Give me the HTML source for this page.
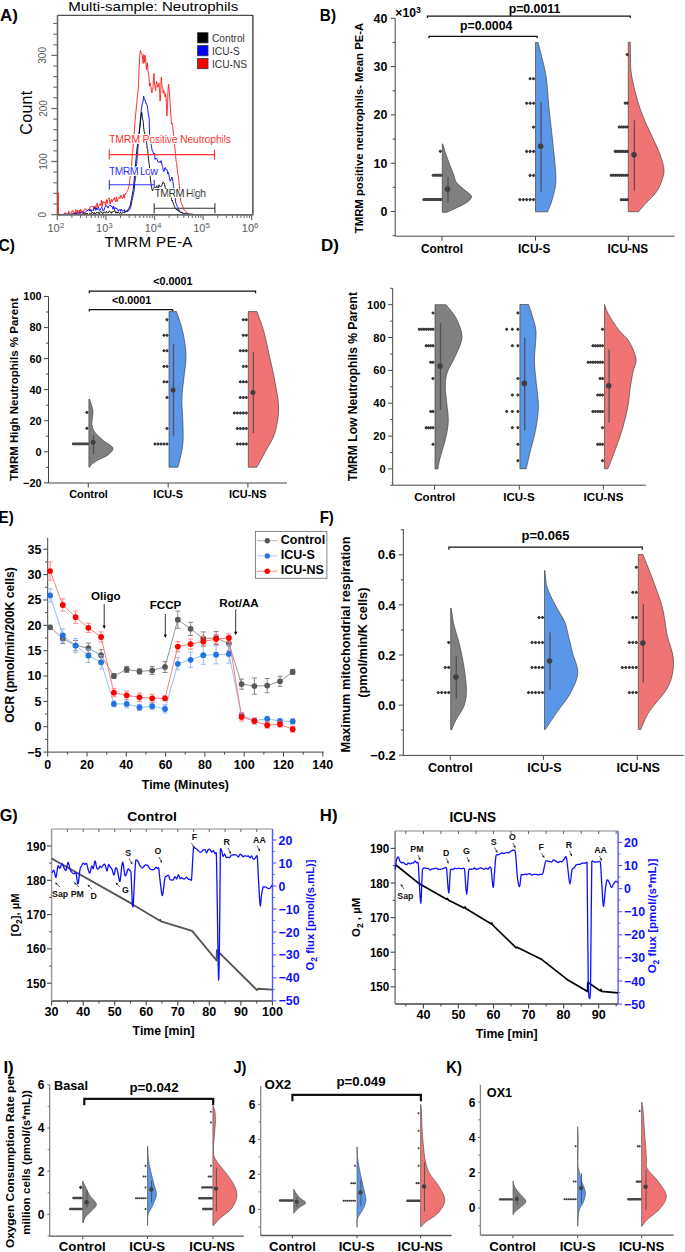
<!DOCTYPE html>
<html><head><meta charset="utf-8"><style>
html,body{margin:0;padding:0;background:#fff;overflow:hidden;width:685px;height:1252px;}
svg{display:block;}
text{font-family:"Liberation Sans",sans-serif;}
</style></head><body>
<svg width="685" height="1252" viewBox="0 0 685 1252">
<rect width="685" height="1252" fill="#fff"/>
<text x="-0.1" y="20.7" font-size="16.6" font-weight="bold" text-anchor="start" fill="#000" textLength="17.9" lengthAdjust="spacingAndGlyphs">A)</text>
<text x="319.8" y="20.7" font-size="16.6" font-weight="bold" text-anchor="start" fill="#000" textLength="16.2" lengthAdjust="spacingAndGlyphs">B)</text>
<text x="-1.5" y="250.8" font-size="16.6" font-weight="bold" text-anchor="start" fill="#000" textLength="16.4" lengthAdjust="spacingAndGlyphs">C)</text>
<text x="320.9" y="251" font-size="16.6" font-weight="bold" text-anchor="start" fill="#000" textLength="17.9" lengthAdjust="spacingAndGlyphs">D)</text>
<text x="-1.5" y="523.1" font-size="16.6" font-weight="bold" text-anchor="start" fill="#000" textLength="15.2" lengthAdjust="spacingAndGlyphs">E)</text>
<text x="319.7" y="522.9" font-size="16.6" font-weight="bold" text-anchor="start" fill="#000" textLength="14.2" lengthAdjust="spacingAndGlyphs">F)</text>
<text x="-0.3" y="820.8" font-size="16.6" font-weight="bold" text-anchor="start" fill="#000" textLength="18.1" lengthAdjust="spacingAndGlyphs">G)</text>
<text x="319.8" y="820.7" font-size="16.6" font-weight="bold" text-anchor="start" fill="#000" textLength="17.7" lengthAdjust="spacingAndGlyphs">H)</text>
<text x="3.4" y="1072.5" font-size="16.6" font-weight="bold" text-anchor="start" fill="#000" textLength="10.3" lengthAdjust="spacingAndGlyphs">I)</text>
<text x="233.4" y="1072.5" font-size="16.6" font-weight="bold" text-anchor="start" fill="#000" textLength="13.0" lengthAdjust="spacingAndGlyphs">J)</text>
<text x="446.3" y="1072.5" font-size="16.6" font-weight="bold" text-anchor="start" fill="#000" textLength="15.6" lengthAdjust="spacingAndGlyphs">K)</text>
<line x1="395.2" y1="18.3" x2="395.2" y2="236.2" stroke="#444" stroke-width="1" />
<line x1="390.7" y1="211.5" x2="395.2" y2="211.5" stroke="#444" stroke-width="1" />
<text x="387.3" y="215.9" font-size="12.4" font-weight="bold" text-anchor="end" fill="#000" >0</text>
<line x1="390.7" y1="163.2" x2="395.2" y2="163.2" stroke="#444" stroke-width="1" />
<text x="387.3" y="167.6" font-size="12.4" font-weight="bold" text-anchor="end" fill="#000" >10</text>
<line x1="390.7" y1="114.9" x2="395.2" y2="114.9" stroke="#444" stroke-width="1" />
<text x="387.3" y="119.3" font-size="12.4" font-weight="bold" text-anchor="end" fill="#000" >20</text>
<line x1="390.7" y1="66.6" x2="395.2" y2="66.6" stroke="#444" stroke-width="1" />
<text x="387.3" y="71" font-size="12.4" font-weight="bold" text-anchor="end" fill="#000" >30</text>
<line x1="390.7" y1="18.3" x2="395.2" y2="18.3" stroke="#444" stroke-width="1" />
<text x="387.3" y="22.7" font-size="12.4" font-weight="bold" text-anchor="end" fill="#000" >40</text>
<line x1="392.7" y1="235.7" x2="395.2" y2="235.7" stroke="#444" stroke-width="1" />
<line x1="392.7" y1="187.3" x2="395.2" y2="187.3" stroke="#444" stroke-width="1" />
<line x1="392.7" y1="139.1" x2="395.2" y2="139.1" stroke="#444" stroke-width="1" />
<line x1="392.7" y1="90.8" x2="395.2" y2="90.8" stroke="#444" stroke-width="1" />
<line x1="392.7" y1="42.4" x2="395.2" y2="42.4" stroke="#444" stroke-width="1" />
<text x="395.3" y="16.8" font-size="12.2" font-weight="bold" text-anchor="start" fill="#000" >×10<tspan font-size="8.8" dy="-4">3</tspan></text>
<line x1="395.2" y1="236.2" x2="674.5" y2="236.2" stroke="#444" stroke-width="1" />
<line x1="442" y1="236.2" x2="442" y2="240.7" stroke="#444" stroke-width="1" />
<line x1="535.5" y1="236.2" x2="535.5" y2="240.7" stroke="#444" stroke-width="1" />
<line x1="628.3" y1="236.2" x2="628.3" y2="240.7" stroke="#444" stroke-width="1" />
<text x="442" y="252.9" font-size="11.85" font-weight="bold" text-anchor="middle" fill="#000" >Control</text>
<text x="534.2" y="252.9" font-size="11.85" font-weight="bold" text-anchor="middle" fill="#000" >ICU-S</text>
<text x="627.8" y="252.9" font-size="11.85" font-weight="bold" text-anchor="middle" fill="#000" >ICU-NS</text>
<text x="362.9" y="128" font-size="11.3" font-weight="bold" text-anchor="middle" fill="#000" transform="rotate(-90 362.9 128)" >TMRM positive neutrophils- Mean PE-A</text>
<path d="M427.5,18.1 L427.5,16.1 L630.3,16.1 L630.3,18.1" fill="none" stroke="#111" stroke-width="1.2"/>
<text x="534.5" y="12.8" font-size="12.3" font-weight="bold" text-anchor="middle" fill="#000" >p=0.0011</text>
<path d="M429,38.3 L429,36.3 L537.2,36.3 L537.2,38.3" fill="none" stroke="#111" stroke-width="1.2"/>
<text x="486.2" y="29.5" font-size="12.3" font-weight="bold" text-anchor="middle" fill="#000" >p=0.0004</text>
<path d="M442.3,143.9 L442.8,143.9 C443.4,145.9 444.8,151 446.5,156 C448.2,161 451.6,169.4 453.3,173.8 C455,178.2 454.7,179.9 456.5,182.5 C458.3,185.1 461.5,187.2 464,189.5 C466.5,191.8 471.2,194.2 471.5,196.4 C471.8,198.7 468.8,201 466,203 C463.2,205 458.2,206.9 455,208.5 C451.8,210.1 448.1,211.7 446.7,212.3 L442.3,212.3 Z" fill="#808080" stroke="#444" stroke-width="0.7" stroke-linejoin="round"/>
<line x1="423.8" y1="199.6" x2="441.1" y2="199.6" stroke="#444" stroke-width="3.0" stroke-linecap="round"/>
<line x1="433.2" y1="175.3" x2="441.1" y2="175.3" stroke="#444" stroke-width="3.0" stroke-linecap="round"/>
<path d="M438.5,151.2 L440.3,149.4 L442.1,151.2 L440.3,153 Z" fill="#383838"/>
<circle cx="440.3" cy="151.2" r="1.2" fill="#383838"/>
<line x1="448" y1="177" x2="448" y2="202.6" stroke="#4a4a4a" stroke-width="1.3" stroke-opacity="0.85"/>
<circle cx="447.6" cy="189.1" r="2.8" fill="#404040"/>
<path d="M535.5,42.5 L538,42.5 C538.8,45.4 541.1,54.1 542.5,60 C543.9,65.9 545.2,69.6 546.3,77.9 C547.4,86.2 548.1,99.2 549.2,109.9 C550.3,120.6 551.6,130.4 552.7,141.8 C553.8,153.2 555.9,169.3 555.9,178.6 C555.9,187.9 554.1,192.2 552.7,197.7 C551.3,203.2 548.5,209.5 547.6,211.8 L535.5,211.8 Z" fill="#5b97e8" stroke="#444" stroke-width="0.7" stroke-linejoin="round"/>
<path d="M531.7,78.7 L533.5,76.9 L535.3,78.7 L533.5,80.5 Z" fill="#383838"/>
<circle cx="533.5" cy="78.7" r="1.2" fill="#383838"/>
<path d="M528.3,78.7 L530.1,76.9 L531.9,78.7 L530.1,80.5 Z" fill="#383838"/>
<circle cx="530.1" cy="78.7" r="1.2" fill="#383838"/>
<path d="M531.7,103.2 L533.5,101.4 L535.3,103.2 L533.5,105 Z" fill="#383838"/>
<circle cx="533.5" cy="103.2" r="1.2" fill="#383838"/>
<path d="M528.3,103.2 L530.1,101.4 L531.9,103.2 L530.1,105 Z" fill="#383838"/>
<circle cx="530.1" cy="103.2" r="1.2" fill="#383838"/>
<path d="M524.9,103.2 L526.7,101.4 L528.5,103.2 L526.7,105 Z" fill="#383838"/>
<circle cx="526.7" cy="103.2" r="1.2" fill="#383838"/>
<path d="M531.7,127.1 L533.5,125.3 L535.3,127.1 L533.5,128.9 Z" fill="#383838"/>
<circle cx="533.5" cy="127.1" r="1.2" fill="#383838"/>
<path d="M531.7,151.4 L533.5,149.6 L535.3,151.4 L533.5,153.2 Z" fill="#383838"/>
<circle cx="533.5" cy="151.4" r="1.2" fill="#383838"/>
<path d="M528.3,151.4 L530.1,149.6 L531.9,151.4 L530.1,153.2 Z" fill="#383838"/>
<circle cx="530.1" cy="151.4" r="1.2" fill="#383838"/>
<path d="M524.9,151.4 L526.7,149.6 L528.5,151.4 L526.7,153.2 Z" fill="#383838"/>
<circle cx="526.7" cy="151.4" r="1.2" fill="#383838"/>
<path d="M531.7,175.4 L533.5,173.6 L535.3,175.4 L533.5,177.2 Z" fill="#383838"/>
<circle cx="533.5" cy="175.4" r="1.2" fill="#383838"/>
<path d="M528.3,175.4 L530.1,173.6 L531.9,175.4 L530.1,177.2 Z" fill="#383838"/>
<circle cx="530.1" cy="175.4" r="1.2" fill="#383838"/>
<path d="M531.7,199.6 L533.5,197.8 L535.3,199.6 L533.5,201.4 Z" fill="#383838"/>
<circle cx="533.5" cy="199.6" r="1.2" fill="#383838"/>
<path d="M528.3,199.6 L530.1,197.8 L531.9,199.6 L530.1,201.4 Z" fill="#383838"/>
<circle cx="530.1" cy="199.6" r="1.2" fill="#383838"/>
<path d="M524.9,199.6 L526.7,197.8 L528.5,199.6 L526.7,201.4 Z" fill="#383838"/>
<circle cx="526.7" cy="199.6" r="1.2" fill="#383838"/>
<path d="M521.5,199.6 L523.3,197.8 L525.1,199.6 L523.3,201.4 Z" fill="#383838"/>
<circle cx="523.3" cy="199.6" r="1.2" fill="#383838"/>
<path d="M518.1,199.6 L519.9,197.8 L521.7,199.6 L519.9,201.4 Z" fill="#383838"/>
<circle cx="519.9" cy="199.6" r="1.2" fill="#383838"/>
<line x1="541.1" y1="101.9" x2="541.1" y2="191.7" stroke="#4a4a4a" stroke-width="1.3" stroke-opacity="0.85"/>
<circle cx="540.7" cy="146.3" r="2.8" fill="#404040"/>
<path d="M628.3,42.2 L630.3,42.2 C630.3,44.3 630.4,49.9 630.5,55 C630.6,60.1 630.3,66.1 631.2,72.8 C632.1,79.5 634.1,88 636,95 C637.9,102 639.8,108.5 642.3,115 C644.8,121.5 648.1,127.8 650.9,134 C653.7,140.2 656.8,146.2 659,152 C661.2,157.8 663.4,163.9 663.9,168.6 C664.4,173.3 663.2,176.2 662,180 C660.8,183.8 658.9,188.1 656.6,191.6 C654.3,195.1 651,197.7 648,201 C645,204.3 640,209.9 638.4,211.7 L628.3,211.7 Z" fill="#f07474" stroke="#444" stroke-width="0.7" stroke-linejoin="round"/>
<path d="M625.4,54.6 L627.2,52.8 L629,54.6 L627.2,56.4 Z" fill="#383838"/>
<circle cx="627.2" cy="54.6" r="1.2" fill="#383838"/>
<path d="M625.4,103.1 L627.2,101.3 L629,103.1 L627.2,104.9 Z" fill="#383838"/>
<circle cx="627.2" cy="103.1" r="1.2" fill="#383838"/>
<path d="M623.4,103.1 L625.2,101.3 L627,103.1 L625.2,104.9 Z" fill="#383838"/>
<circle cx="625.2" cy="103.1" r="1.2" fill="#383838"/>
<path d="M625.4,127 L627.2,125.2 L629,127 L627.2,128.8 Z" fill="#383838"/>
<circle cx="627.2" cy="127" r="1.2" fill="#383838"/>
<path d="M623.4,127 L625.2,125.2 L627,127 L625.2,128.8 Z" fill="#383838"/>
<circle cx="625.2" cy="127" r="1.2" fill="#383838"/>
<path d="M621.4,127 L623.2,125.2 L625,127 L623.2,128.8 Z" fill="#383838"/>
<circle cx="623.2" cy="127" r="1.2" fill="#383838"/>
<path d="M619.4,127 L621.2,125.2 L623,127 L621.2,128.8 Z" fill="#383838"/>
<circle cx="621.2" cy="127" r="1.2" fill="#383838"/>
<path d="M617.4,127 L619.2,125.2 L621,127 L619.2,128.8 Z" fill="#383838"/>
<circle cx="619.2" cy="127" r="1.2" fill="#383838"/>
<path d="M625.4,151.4 L627.2,149.6 L629,151.4 L627.2,153.2 Z" fill="#383838"/>
<circle cx="627.2" cy="151.4" r="1.2" fill="#383838"/>
<path d="M623.4,151.4 L625.2,149.6 L627,151.4 L625.2,153.2 Z" fill="#383838"/>
<circle cx="625.2" cy="151.4" r="1.2" fill="#383838"/>
<path d="M621.4,151.4 L623.2,149.6 L625,151.4 L623.2,153.2 Z" fill="#383838"/>
<circle cx="623.2" cy="151.4" r="1.2" fill="#383838"/>
<path d="M619.4,151.4 L621.2,149.6 L623,151.4 L621.2,153.2 Z" fill="#383838"/>
<circle cx="621.2" cy="151.4" r="1.2" fill="#383838"/>
<path d="M617.4,151.4 L619.2,149.6 L621,151.4 L619.2,153.2 Z" fill="#383838"/>
<circle cx="619.2" cy="151.4" r="1.2" fill="#383838"/>
<path d="M615.4,151.4 L617.2,149.6 L619,151.4 L617.2,153.2 Z" fill="#383838"/>
<circle cx="617.2" cy="151.4" r="1.2" fill="#383838"/>
<path d="M613.4,151.4 L615.2,149.6 L617,151.4 L615.2,153.2 Z" fill="#383838"/>
<circle cx="615.2" cy="151.4" r="1.2" fill="#383838"/>
<path d="M625.4,175.3 L627.2,173.5 L629,175.3 L627.2,177.1 Z" fill="#383838"/>
<circle cx="627.2" cy="175.3" r="1.2" fill="#383838"/>
<path d="M623.4,175.3 L625.2,173.5 L627,175.3 L625.2,177.1 Z" fill="#383838"/>
<circle cx="625.2" cy="175.3" r="1.2" fill="#383838"/>
<path d="M621.4,175.3 L623.2,173.5 L625,175.3 L623.2,177.1 Z" fill="#383838"/>
<circle cx="623.2" cy="175.3" r="1.2" fill="#383838"/>
<path d="M619.4,175.3 L621.2,173.5 L623,175.3 L621.2,177.1 Z" fill="#383838"/>
<circle cx="621.2" cy="175.3" r="1.2" fill="#383838"/>
<path d="M617.4,175.3 L619.2,173.5 L621,175.3 L619.2,177.1 Z" fill="#383838"/>
<circle cx="619.2" cy="175.3" r="1.2" fill="#383838"/>
<path d="M615.4,175.3 L617.2,173.5 L619,175.3 L617.2,177.1 Z" fill="#383838"/>
<circle cx="617.2" cy="175.3" r="1.2" fill="#383838"/>
<path d="M613.4,175.3 L615.2,173.5 L617,175.3 L615.2,177.1 Z" fill="#383838"/>
<circle cx="615.2" cy="175.3" r="1.2" fill="#383838"/>
<path d="M611.4,175.3 L613.2,173.5 L615,175.3 L613.2,177.1 Z" fill="#383838"/>
<circle cx="613.2" cy="175.3" r="1.2" fill="#383838"/>
<path d="M609.4,175.3 L611.2,173.5 L613,175.3 L611.2,177.1 Z" fill="#383838"/>
<circle cx="611.2" cy="175.3" r="1.2" fill="#383838"/>
<path d="M625.4,199.7 L627.2,197.9 L629,199.7 L627.2,201.5 Z" fill="#383838"/>
<circle cx="627.2" cy="199.7" r="1.2" fill="#383838"/>
<path d="M623.4,199.7 L625.2,197.9 L627,199.7 L625.2,201.5 Z" fill="#383838"/>
<circle cx="625.2" cy="199.7" r="1.2" fill="#383838"/>
<path d="M621.4,199.7 L623.2,197.9 L625,199.7 L623.2,201.5 Z" fill="#383838"/>
<circle cx="623.2" cy="199.7" r="1.2" fill="#383838"/>
<path d="M619.4,199.7 L621.2,197.9 L623,199.7 L621.2,201.5 Z" fill="#383838"/>
<circle cx="621.2" cy="199.7" r="1.2" fill="#383838"/>
<line x1="634.4" y1="120.3" x2="634.4" y2="190.6" stroke="#4a4a4a" stroke-width="1.3" stroke-opacity="0.85"/>
<circle cx="634" cy="154.8" r="2.8" fill="#404040"/>
<line x1="48.5" y1="296.5" x2="48.5" y2="483" stroke="#444" stroke-width="1" />
<line x1="44" y1="482.8" x2="48.5" y2="482.8" stroke="#444" stroke-width="1" />
<text x="41.5" y="486.7" font-size="10.9" font-weight="bold" text-anchor="end" fill="#000" >−20</text>
<line x1="44" y1="451.8" x2="48.5" y2="451.8" stroke="#444" stroke-width="1" />
<text x="41.5" y="455.6" font-size="10.9" font-weight="bold" text-anchor="end" fill="#000" >0</text>
<line x1="44" y1="420.7" x2="48.5" y2="420.7" stroke="#444" stroke-width="1" />
<text x="41.5" y="424.6" font-size="10.9" font-weight="bold" text-anchor="end" fill="#000" >20</text>
<line x1="44" y1="389.6" x2="48.5" y2="389.6" stroke="#444" stroke-width="1" />
<text x="41.5" y="393.5" font-size="10.9" font-weight="bold" text-anchor="end" fill="#000" >40</text>
<line x1="44" y1="358.6" x2="48.5" y2="358.6" stroke="#444" stroke-width="1" />
<text x="41.5" y="362.5" font-size="10.9" font-weight="bold" text-anchor="end" fill="#000" >60</text>
<line x1="44" y1="327.6" x2="48.5" y2="327.6" stroke="#444" stroke-width="1" />
<text x="41.5" y="331.4" font-size="10.9" font-weight="bold" text-anchor="end" fill="#000" >80</text>
<line x1="44" y1="296.5" x2="48.5" y2="296.5" stroke="#444" stroke-width="1" />
<text x="41.5" y="300.4" font-size="10.9" font-weight="bold" text-anchor="end" fill="#000" >100</text>
<line x1="46" y1="467.3" x2="48.5" y2="467.3" stroke="#444" stroke-width="1" />
<line x1="46" y1="436.2" x2="48.5" y2="436.2" stroke="#444" stroke-width="1" />
<line x1="46" y1="405.2" x2="48.5" y2="405.2" stroke="#444" stroke-width="1" />
<line x1="46" y1="374.1" x2="48.5" y2="374.1" stroke="#444" stroke-width="1" />
<line x1="46" y1="343.1" x2="48.5" y2="343.1" stroke="#444" stroke-width="1" />
<line x1="46" y1="312" x2="48.5" y2="312" stroke="#444" stroke-width="1" />
<line x1="48.5" y1="483" x2="287" y2="483" stroke="#444" stroke-width="1" />
<line x1="88.3" y1="483" x2="88.3" y2="487.5" stroke="#444" stroke-width="1" />
<line x1="168.2" y1="483" x2="168.2" y2="487.5" stroke="#444" stroke-width="1" />
<line x1="247.9" y1="483" x2="247.9" y2="487.5" stroke="#444" stroke-width="1" />
<text x="88.5" y="497.7" font-size="10.9" font-weight="bold" text-anchor="middle" fill="#000" >Control</text>
<text x="168.2" y="497.7" font-size="10.9" font-weight="bold" text-anchor="middle" fill="#000" >ICU-S</text>
<text x="247.7" y="497.7" font-size="10.9" font-weight="bold" text-anchor="middle" fill="#000" >ICU-NS</text>
<text x="18.3" y="389.3" font-size="11.5" font-weight="bold" text-anchor="middle" fill="#000" transform="rotate(-90 18.3 389.3)" >TMRM High Neutrophils % Parent</text>
<path d="M89.3,293.2 L89.3,291.2 L255.6,291.2 L255.6,293.2" fill="none" stroke="#111" stroke-width="1.2"/>
<text x="172.9" y="284.7" font-size="10.8" font-weight="bold" text-anchor="middle" fill="#000" >&lt;0.0001</text>
<path d="M89.3,311.6 L89.3,309.6 L172.7,309.6 L172.7,311.6" fill="none" stroke="#111" stroke-width="1.2"/>
<text x="131.7" y="303.6" font-size="10.8" font-weight="bold" text-anchor="middle" fill="#000" >&lt;0.0001</text>
<path d="M88.9,399.1 L89.5,399.1 C89.8,400.1 90.9,402.9 91.5,405 C92.1,407.1 92.9,409.8 93,412 C93.1,414.2 92.5,415.9 92.3,418 C92.1,420.1 91.6,422.5 91.8,424.5 C92,426.5 92.7,428.4 93.5,430 C94.3,431.6 95,432.6 96.8,434.4 C98.5,436.2 101.3,438.7 104,441 C106.7,443.3 112.2,445.7 112.9,448 C113.6,450.3 110.3,453.1 108,455 C105.7,456.9 101.7,458 99,459.5 C96.3,461 93.6,462.7 92,464 C90.4,465.3 89.9,466.7 89.5,467.2 L88.9,467.2 Z" fill="#808080" stroke="#444" stroke-width="0.7" stroke-linejoin="round"/>
<path d="M85.1,412.5 L86.9,410.7 L88.7,412.5 L86.9,414.3 Z" fill="#383838"/>
<circle cx="86.9" cy="412.5" r="1.2" fill="#383838"/>
<path d="M85.1,428.2 L86.9,426.4 L88.7,428.2 L86.9,430 Z" fill="#383838"/>
<circle cx="86.9" cy="428.2" r="1.2" fill="#383838"/>
<line x1="73.2" y1="443.9" x2="87.7" y2="443.9" stroke="#444" stroke-width="2.8" stroke-linecap="round"/>
<line x1="93.5" y1="435.6" x2="93.5" y2="454.2" stroke="#4a4a4a" stroke-width="1.3" stroke-opacity="0.85"/>
<circle cx="93.1" cy="442.3" r="2.5" fill="#404040"/>
<path d="M169,311.6 L176.4,311.6 C177.4,314.8 180.9,323.4 182.5,330.7 C184.1,338 185.8,347.4 186,355.2 C186.2,363 184.6,370.6 183.9,377.7 C183.2,384.8 182.1,390.5 181.9,398 C181.7,405.5 182.7,415.1 182.9,422.6 C183.1,430.1 183.4,436.9 182.9,443 C182.4,449.1 180.8,455.4 179.9,459.4 C179.1,463.4 178.2,465.9 177.8,467.2 L169,467.2 Z" fill="#5b97e8" stroke="#444" stroke-width="0.7" stroke-linejoin="round"/>
<path d="M165.2,319.8 L167,318 L168.8,319.8 L167,321.5 Z" fill="#383838"/>
<circle cx="167" cy="319.8" r="1.2" fill="#383838"/>
<path d="M165.2,335.3 L167,333.6 L168.8,335.3 L167,337.1 Z" fill="#383838"/>
<circle cx="167" cy="335.3" r="1.2" fill="#383838"/>
<path d="M162.2,335.3 L164,333.6 L165.8,335.3 L164,337.1 Z" fill="#383838"/>
<circle cx="164" cy="335.3" r="1.2" fill="#383838"/>
<path d="M165.2,350.8 L167,349.1 L168.8,350.8 L167,352.6 Z" fill="#383838"/>
<circle cx="167" cy="350.8" r="1.2" fill="#383838"/>
<path d="M162.2,350.8 L164,349.1 L165.8,350.8 L164,352.6 Z" fill="#383838"/>
<circle cx="164" cy="350.8" r="1.2" fill="#383838"/>
<path d="M165.2,366.4 L167,364.6 L168.8,366.4 L167,368.1 Z" fill="#383838"/>
<circle cx="167" cy="366.4" r="1.2" fill="#383838"/>
<path d="M162.2,366.4 L164,364.6 L165.8,366.4 L164,368.1 Z" fill="#383838"/>
<circle cx="164" cy="366.4" r="1.2" fill="#383838"/>
<path d="M165.2,381.9 L167,380.1 L168.8,381.9 L167,383.6 Z" fill="#383838"/>
<circle cx="167" cy="381.9" r="1.2" fill="#383838"/>
<path d="M162.2,381.9 L164,380.1 L165.8,381.9 L164,383.6 Z" fill="#383838"/>
<circle cx="164" cy="381.9" r="1.2" fill="#383838"/>
<path d="M165.2,397.4 L167,395.7 L168.8,397.4 L167,399.2 Z" fill="#383838"/>
<circle cx="167" cy="397.4" r="1.2" fill="#383838"/>
<path d="M165.2,428.5 L167,426.7 L168.8,428.5 L167,430.2 Z" fill="#383838"/>
<circle cx="167" cy="428.5" r="1.2" fill="#383838"/>
<path d="M165.2,444 L167,442.2 L168.8,444 L167,445.7 Z" fill="#383838"/>
<circle cx="167" cy="444" r="1.2" fill="#383838"/>
<path d="M162.2,444 L164,442.2 L165.8,444 L164,445.7 Z" fill="#383838"/>
<circle cx="164" cy="444" r="1.2" fill="#383838"/>
<path d="M159.2,444 L161,442.2 L162.8,444 L161,445.7 Z" fill="#383838"/>
<circle cx="161" cy="444" r="1.2" fill="#383838"/>
<path d="M156.2,444 L158,442.2 L159.8,444 L158,445.7 Z" fill="#383838"/>
<circle cx="158" cy="444" r="1.2" fill="#383838"/>
<path d="M153.2,444 L155,442.2 L156.8,444 L155,445.7 Z" fill="#383838"/>
<circle cx="155" cy="444" r="1.2" fill="#383838"/>
<line x1="173.5" y1="343.9" x2="173.5" y2="436.5" stroke="#4a4a4a" stroke-width="1.3" stroke-opacity="0.85"/>
<circle cx="173.1" cy="389.9" r="2.5" fill="#404040"/>
<path d="M248.3,311.6 L256.9,311.6 C258,314.8 261.7,324.1 263.6,330.7 C265.5,337.3 266.4,342.5 268.3,351 C270.2,359.5 273.2,372.1 274.9,381.7 C276.6,391.2 278.6,399.8 278.6,408.3 C278.6,416.8 276.9,426 274.9,432.8 C272.9,439.6 269.7,443.5 266.7,449.2 C263.7,454.9 258.5,464.2 256.9,467.2 L248.3,467.2 Z" fill="#f07474" stroke="#444" stroke-width="0.7" stroke-linejoin="round"/>
<path d="M244.5,319.8 L246.3,318 L248.1,319.8 L246.3,321.5 Z" fill="#383838"/>
<circle cx="246.3" cy="319.8" r="1.2" fill="#383838"/>
<path d="M241.5,319.8 L243.3,318 L245.1,319.8 L243.3,321.5 Z" fill="#383838"/>
<circle cx="243.3" cy="319.8" r="1.2" fill="#383838"/>
<path d="M244.5,335.3 L246.3,333.6 L248.1,335.3 L246.3,337.1 Z" fill="#383838"/>
<circle cx="246.3" cy="335.3" r="1.2" fill="#383838"/>
<path d="M241.5,335.3 L243.3,333.6 L245.1,335.3 L243.3,337.1 Z" fill="#383838"/>
<circle cx="243.3" cy="335.3" r="1.2" fill="#383838"/>
<path d="M244.5,350.8 L246.3,349.1 L248.1,350.8 L246.3,352.6 Z" fill="#383838"/>
<circle cx="246.3" cy="350.8" r="1.2" fill="#383838"/>
<path d="M241.5,350.8 L243.3,349.1 L245.1,350.8 L243.3,352.6 Z" fill="#383838"/>
<circle cx="243.3" cy="350.8" r="1.2" fill="#383838"/>
<path d="M238.5,350.8 L240.3,349.1 L242.1,350.8 L240.3,352.6 Z" fill="#383838"/>
<circle cx="240.3" cy="350.8" r="1.2" fill="#383838"/>
<path d="M244.5,366.4 L246.3,364.6 L248.1,366.4 L246.3,368.1 Z" fill="#383838"/>
<circle cx="246.3" cy="366.4" r="1.2" fill="#383838"/>
<path d="M241.5,366.4 L243.3,364.6 L245.1,366.4 L243.3,368.1 Z" fill="#383838"/>
<circle cx="243.3" cy="366.4" r="1.2" fill="#383838"/>
<path d="M244.5,381.9 L246.3,380.1 L248.1,381.9 L246.3,383.6 Z" fill="#383838"/>
<circle cx="246.3" cy="381.9" r="1.2" fill="#383838"/>
<path d="M241.5,381.9 L243.3,380.1 L245.1,381.9 L243.3,383.6 Z" fill="#383838"/>
<circle cx="243.3" cy="381.9" r="1.2" fill="#383838"/>
<path d="M238.5,381.9 L240.3,380.1 L242.1,381.9 L240.3,383.6 Z" fill="#383838"/>
<circle cx="240.3" cy="381.9" r="1.2" fill="#383838"/>
<path d="M244.5,397.4 L246.3,395.7 L248.1,397.4 L246.3,399.2 Z" fill="#383838"/>
<circle cx="246.3" cy="397.4" r="1.2" fill="#383838"/>
<path d="M241.5,397.4 L243.3,395.7 L245.1,397.4 L243.3,399.2 Z" fill="#383838"/>
<circle cx="243.3" cy="397.4" r="1.2" fill="#383838"/>
<path d="M238.5,397.4 L240.3,395.7 L242.1,397.4 L240.3,399.2 Z" fill="#383838"/>
<circle cx="240.3" cy="397.4" r="1.2" fill="#383838"/>
<path d="M244.5,412.9 L246.3,411.2 L248.1,412.9 L246.3,414.7 Z" fill="#383838"/>
<circle cx="246.3" cy="412.9" r="1.2" fill="#383838"/>
<path d="M241.5,412.9 L243.3,411.2 L245.1,412.9 L243.3,414.7 Z" fill="#383838"/>
<circle cx="243.3" cy="412.9" r="1.2" fill="#383838"/>
<path d="M238.5,412.9 L240.3,411.2 L242.1,412.9 L240.3,414.7 Z" fill="#383838"/>
<circle cx="240.3" cy="412.9" r="1.2" fill="#383838"/>
<path d="M235.5,412.9 L237.3,411.2 L239.1,412.9 L237.3,414.7 Z" fill="#383838"/>
<circle cx="237.3" cy="412.9" r="1.2" fill="#383838"/>
<path d="M232.5,412.9 L234.3,411.2 L236.1,412.9 L234.3,414.7 Z" fill="#383838"/>
<circle cx="234.3" cy="412.9" r="1.2" fill="#383838"/>
<path d="M244.5,428.5 L246.3,426.7 L248.1,428.5 L246.3,430.2 Z" fill="#383838"/>
<circle cx="246.3" cy="428.5" r="1.2" fill="#383838"/>
<path d="M241.5,428.5 L243.3,426.7 L245.1,428.5 L243.3,430.2 Z" fill="#383838"/>
<circle cx="243.3" cy="428.5" r="1.2" fill="#383838"/>
<path d="M238.5,428.5 L240.3,426.7 L242.1,428.5 L240.3,430.2 Z" fill="#383838"/>
<circle cx="240.3" cy="428.5" r="1.2" fill="#383838"/>
<path d="M235.5,428.5 L237.3,426.7 L239.1,428.5 L237.3,430.2 Z" fill="#383838"/>
<circle cx="237.3" cy="428.5" r="1.2" fill="#383838"/>
<path d="M244.5,444 L246.3,442.2 L248.1,444 L246.3,445.7 Z" fill="#383838"/>
<circle cx="246.3" cy="444" r="1.2" fill="#383838"/>
<path d="M241.5,444 L243.3,442.2 L245.1,444 L243.3,445.7 Z" fill="#383838"/>
<circle cx="243.3" cy="444" r="1.2" fill="#383838"/>
<path d="M238.5,444 L240.3,442.2 L242.1,444 L240.3,445.7 Z" fill="#383838"/>
<circle cx="240.3" cy="444" r="1.2" fill="#383838"/>
<path d="M235.5,444 L237.3,442.2 L239.1,444 L237.3,445.7 Z" fill="#383838"/>
<circle cx="237.3" cy="444" r="1.2" fill="#383838"/>
<line x1="253.4" y1="352.1" x2="253.4" y2="433.2" stroke="#4a4a4a" stroke-width="1.3" stroke-opacity="0.85"/>
<circle cx="253" cy="392.6" r="2.5" fill="#404040"/>
<line x1="392.7" y1="288.4" x2="392.7" y2="485" stroke="#444" stroke-width="1" />
<line x1="388.2" y1="468.9" x2="392.7" y2="468.9" stroke="#444" stroke-width="1" />
<text x="385.6" y="472.9" font-size="11.1" font-weight="bold" text-anchor="end" fill="#000" >0</text>
<line x1="388.2" y1="436.1" x2="392.7" y2="436.1" stroke="#444" stroke-width="1" />
<text x="385.6" y="440.1" font-size="11.1" font-weight="bold" text-anchor="end" fill="#000" >20</text>
<line x1="388.2" y1="403.2" x2="392.7" y2="403.2" stroke="#444" stroke-width="1" />
<text x="385.6" y="407.2" font-size="11.1" font-weight="bold" text-anchor="end" fill="#000" >40</text>
<line x1="388.2" y1="370.4" x2="392.7" y2="370.4" stroke="#444" stroke-width="1" />
<text x="385.6" y="374.4" font-size="11.1" font-weight="bold" text-anchor="end" fill="#000" >60</text>
<line x1="388.2" y1="337.5" x2="392.7" y2="337.5" stroke="#444" stroke-width="1" />
<text x="385.6" y="341.5" font-size="11.1" font-weight="bold" text-anchor="end" fill="#000" >80</text>
<line x1="388.2" y1="304.7" x2="392.7" y2="304.7" stroke="#444" stroke-width="1" />
<text x="385.6" y="308.7" font-size="11.1" font-weight="bold" text-anchor="end" fill="#000" >100</text>
<line x1="390.2" y1="485.3" x2="392.7" y2="485.3" stroke="#444" stroke-width="1" />
<line x1="390.2" y1="452.5" x2="392.7" y2="452.5" stroke="#444" stroke-width="1" />
<line x1="390.2" y1="419.6" x2="392.7" y2="419.6" stroke="#444" stroke-width="1" />
<line x1="390.2" y1="386.8" x2="392.7" y2="386.8" stroke="#444" stroke-width="1" />
<line x1="390.2" y1="354" x2="392.7" y2="354" stroke="#444" stroke-width="1" />
<line x1="390.2" y1="321.1" x2="392.7" y2="321.1" stroke="#444" stroke-width="1" />
<line x1="390.2" y1="288.3" x2="392.7" y2="288.3" stroke="#444" stroke-width="1" />
<line x1="392.7" y1="485.2" x2="645.8" y2="485.2" stroke="#444" stroke-width="1" />
<line x1="434.6" y1="485.2" x2="434.6" y2="489.7" stroke="#444" stroke-width="1" />
<line x1="519.3" y1="485.2" x2="519.3" y2="489.7" stroke="#444" stroke-width="1" />
<line x1="603.4" y1="485.2" x2="603.4" y2="489.7" stroke="#444" stroke-width="1" />
<text x="434.8" y="501.2" font-size="11.55" font-weight="bold" text-anchor="middle" fill="#000" >Control</text>
<text x="518.9" y="501.2" font-size="11.55" font-weight="bold" text-anchor="middle" fill="#000" >ICU-S</text>
<text x="603.5" y="501.2" font-size="11.55" font-weight="bold" text-anchor="middle" fill="#000" >ICU-NS</text>
<text x="356.9" y="386.7" font-size="12.08" font-weight="bold" text-anchor="middle" fill="#000" transform="rotate(-90 356.9 386.7)" >TMRM Low Neutrophils % Parent</text>
<path d="M435,304.7 L445.9,304.7 C446.9,305.9 450.1,309.3 452,312 C453.9,314.7 455.8,316.9 457.5,321.1 C459.2,325.3 462.3,331.6 462,337.4 C461.7,343.2 457.9,350 455.5,355.8 C453.1,361.6 449,367.1 447.3,372.2 C445.6,377.3 445.4,381.4 445.3,386.5 C445.2,391.6 446.2,397 446.7,402.8 C447.2,408.6 448.5,415.1 448.3,421.2 C448.1,427.3 446.8,433.1 445.3,439.6 C443.8,446.1 440.7,455.1 439.5,460 C438.3,464.9 438.2,467.4 438,468.9 L435,468.9 Z" fill="#808080" stroke="#444" stroke-width="0.7" stroke-linejoin="round"/>
<path d="M431.2,312.9 L433,311.2 L434.8,312.9 L433,314.7 Z" fill="#383838"/>
<circle cx="433" cy="312.9" r="1.2" fill="#383838"/>
<path d="M431.2,329.3 L433,327.6 L434.8,329.3 L433,331.1 Z" fill="#383838"/>
<circle cx="433" cy="329.3" r="1.2" fill="#383838"/>
<path d="M428.9,329.3 L430.7,327.6 L432.5,329.3 L430.7,331.1 Z" fill="#383838"/>
<circle cx="430.7" cy="329.3" r="1.2" fill="#383838"/>
<path d="M426.6,329.3 L428.4,327.6 L430.2,329.3 L428.4,331.1 Z" fill="#383838"/>
<circle cx="428.4" cy="329.3" r="1.2" fill="#383838"/>
<path d="M424.3,329.3 L426.1,327.6 L427.9,329.3 L426.1,331.1 Z" fill="#383838"/>
<circle cx="426.1" cy="329.3" r="1.2" fill="#383838"/>
<path d="M422,329.3 L423.8,327.6 L425.6,329.3 L423.8,331.1 Z" fill="#383838"/>
<circle cx="423.8" cy="329.3" r="1.2" fill="#383838"/>
<path d="M419.7,329.3 L421.5,327.6 L423.3,329.3 L421.5,331.1 Z" fill="#383838"/>
<circle cx="421.5" cy="329.3" r="1.2" fill="#383838"/>
<path d="M417.4,329.3 L419.2,327.6 L421,329.3 L419.2,331.1 Z" fill="#383838"/>
<circle cx="419.2" cy="329.3" r="1.2" fill="#383838"/>
<path d="M431.2,345.8 L433,344 L434.8,345.8 L433,347.5 Z" fill="#383838"/>
<circle cx="433" cy="345.8" r="1.2" fill="#383838"/>
<path d="M428.9,345.8 L430.7,344 L432.5,345.8 L430.7,347.5 Z" fill="#383838"/>
<circle cx="430.7" cy="345.8" r="1.2" fill="#383838"/>
<path d="M426.6,345.8 L428.4,344 L430.2,345.8 L428.4,347.5 Z" fill="#383838"/>
<circle cx="428.4" cy="345.8" r="1.2" fill="#383838"/>
<path d="M424.3,345.8 L426.1,344 L427.9,345.8 L426.1,347.5 Z" fill="#383838"/>
<circle cx="426.1" cy="345.8" r="1.2" fill="#383838"/>
<path d="M431.2,362.2 L433,360.4 L434.8,362.2 L433,363.9 Z" fill="#383838"/>
<circle cx="433" cy="362.2" r="1.2" fill="#383838"/>
<path d="M428.9,362.2 L430.7,360.4 L432.5,362.2 L430.7,363.9 Z" fill="#383838"/>
<circle cx="430.7" cy="362.2" r="1.2" fill="#383838"/>
<path d="M431.2,378.6 L433,376.8 L434.8,378.6 L433,380.3 Z" fill="#383838"/>
<circle cx="433" cy="378.6" r="1.2" fill="#383838"/>
<path d="M431.2,411.4 L433,409.7 L434.8,411.4 L433,413.2 Z" fill="#383838"/>
<circle cx="433" cy="411.4" r="1.2" fill="#383838"/>
<path d="M428.9,411.4 L430.7,409.7 L432.5,411.4 L430.7,413.2 Z" fill="#383838"/>
<circle cx="430.7" cy="411.4" r="1.2" fill="#383838"/>
<path d="M431.2,427.8 L433,426.1 L434.8,427.8 L433,429.6 Z" fill="#383838"/>
<circle cx="433" cy="427.8" r="1.2" fill="#383838"/>
<path d="M428.9,427.8 L430.7,426.1 L432.5,427.8 L430.7,429.6 Z" fill="#383838"/>
<circle cx="430.7" cy="427.8" r="1.2" fill="#383838"/>
<path d="M426.6,427.8 L428.4,426.1 L430.2,427.8 L428.4,429.6 Z" fill="#383838"/>
<circle cx="428.4" cy="427.8" r="1.2" fill="#383838"/>
<path d="M424.3,427.8 L426.1,426.1 L427.9,427.8 L426.1,429.6 Z" fill="#383838"/>
<circle cx="426.1" cy="427.8" r="1.2" fill="#383838"/>
<path d="M431.2,444.3 L433,442.5 L434.8,444.3 L433,446 Z" fill="#383838"/>
<circle cx="433" cy="444.3" r="1.2" fill="#383838"/>
<line x1="440.5" y1="323.1" x2="440.5" y2="410" stroke="#4a4a4a" stroke-width="1.3" stroke-opacity="0.85"/>
<circle cx="440.1" cy="366.1" r="2.8" fill="#404040"/>
<path d="M519.9,304.5 L528.5,304.5 C529.1,306.2 530.8,310.4 532,315 C533.2,319.6 535.6,324.5 536,332 C536.4,339.5 534.4,351.4 534.4,360 C534.4,368.6 535.6,375.6 536.3,383.4 C537,391.2 538.5,399 538.4,406.8 C538.3,414.6 537,422.4 535.5,430.2 C534,438 531.2,447.1 529.7,453.5 C528.2,459.9 526.8,466.2 526.2,468.7 L519.9,468.7 Z" fill="#5b97e8" stroke="#444" stroke-width="0.7" stroke-linejoin="round"/>
<path d="M516.1,312.9 L517.9,311.2 L519.7,312.9 L517.9,314.7 Z" fill="#383838"/>
<circle cx="517.9" cy="312.9" r="1.2" fill="#383838"/>
<path d="M516.1,329.3 L517.9,327.6 L519.7,329.3 L517.9,331.1 Z" fill="#383838"/>
<circle cx="517.9" cy="329.3" r="1.2" fill="#383838"/>
<path d="M510.5,329.3 L512.3,327.6 L514.1,329.3 L512.3,331.1 Z" fill="#383838"/>
<circle cx="512.3" cy="329.3" r="1.2" fill="#383838"/>
<path d="M504.9,329.3 L506.7,327.6 L508.5,329.3 L506.7,331.1 Z" fill="#383838"/>
<circle cx="506.7" cy="329.3" r="1.2" fill="#383838"/>
<path d="M516.1,345.8 L517.9,344 L519.7,345.8 L517.9,347.5 Z" fill="#383838"/>
<circle cx="517.9" cy="345.8" r="1.2" fill="#383838"/>
<path d="M510.5,345.8 L512.3,344 L514.1,345.8 L512.3,347.5 Z" fill="#383838"/>
<circle cx="512.3" cy="345.8" r="1.2" fill="#383838"/>
<path d="M516.1,378.6 L517.9,376.8 L519.7,378.6 L517.9,380.3 Z" fill="#383838"/>
<circle cx="517.9" cy="378.6" r="1.2" fill="#383838"/>
<path d="M516.1,395 L517.9,393.3 L519.7,395 L517.9,396.8 Z" fill="#383838"/>
<circle cx="517.9" cy="395" r="1.2" fill="#383838"/>
<path d="M510.5,395 L512.3,393.3 L514.1,395 L512.3,396.8 Z" fill="#383838"/>
<circle cx="512.3" cy="395" r="1.2" fill="#383838"/>
<path d="M516.1,411.4 L517.9,409.7 L519.7,411.4 L517.9,413.2 Z" fill="#383838"/>
<circle cx="517.9" cy="411.4" r="1.2" fill="#383838"/>
<path d="M510.5,411.4 L512.3,409.7 L514.1,411.4 L512.3,413.2 Z" fill="#383838"/>
<circle cx="512.3" cy="411.4" r="1.2" fill="#383838"/>
<path d="M504.9,411.4 L506.7,409.7 L508.5,411.4 L506.7,413.2 Z" fill="#383838"/>
<circle cx="506.7" cy="411.4" r="1.2" fill="#383838"/>
<path d="M516.1,427.8 L517.9,426.1 L519.7,427.8 L517.9,429.6 Z" fill="#383838"/>
<circle cx="517.9" cy="427.8" r="1.2" fill="#383838"/>
<path d="M510.5,427.8 L512.3,426.1 L514.1,427.8 L512.3,429.6 Z" fill="#383838"/>
<circle cx="512.3" cy="427.8" r="1.2" fill="#383838"/>
<path d="M516.1,444.3 L517.9,442.5 L519.7,444.3 L517.9,446 Z" fill="#383838"/>
<circle cx="517.9" cy="444.3" r="1.2" fill="#383838"/>
<path d="M516.1,460.7 L517.9,458.9 L519.7,460.7 L517.9,462.4 Z" fill="#383838"/>
<circle cx="517.9" cy="460.7" r="1.2" fill="#383838"/>
<line x1="524.7" y1="337.4" x2="524.7" y2="430.6" stroke="#4a4a4a" stroke-width="1.3" stroke-opacity="0.85"/>
<circle cx="524.3" cy="383.4" r="2.8" fill="#404040"/>
<path d="M604.5,304.5 L604.6,304.5 C605.2,306 605.7,309.2 608,313.4 C610.3,317.6 615,325 618.5,329.7 C622,334.4 626.1,336.5 629,341.4 C631.9,346.3 635.3,353.8 636,358.9 C636.7,364 634,366.9 633,371.8 C632,376.7 631.1,382.3 630.2,388.1 C629.3,393.9 629.2,399.8 627.8,406.8 C626.4,413.8 624.3,422.4 622,430.2 C619.7,438 616.1,447.1 613.8,453.5 C611.5,459.9 609,466.2 608,468.7 L604.5,468.7 Z" fill="#f07474" stroke="#444" stroke-width="0.7" stroke-linejoin="round"/>
<path d="M600.7,329.3 L602.5,327.6 L604.3,329.3 L602.5,331.1 Z" fill="#383838"/>
<circle cx="602.5" cy="329.3" r="1.2" fill="#383838"/>
<path d="M600.7,345.8 L602.5,344 L604.3,345.8 L602.5,347.5 Z" fill="#383838"/>
<circle cx="602.5" cy="345.8" r="1.2" fill="#383838"/>
<path d="M598.3,345.8 L600.1,344 L601.9,345.8 L600.1,347.5 Z" fill="#383838"/>
<circle cx="600.1" cy="345.8" r="1.2" fill="#383838"/>
<path d="M595.9,345.8 L597.7,344 L599.5,345.8 L597.7,347.5 Z" fill="#383838"/>
<circle cx="597.7" cy="345.8" r="1.2" fill="#383838"/>
<path d="M593.5,345.8 L595.3,344 L597.1,345.8 L595.3,347.5 Z" fill="#383838"/>
<circle cx="595.3" cy="345.8" r="1.2" fill="#383838"/>
<path d="M591.1,345.8 L592.9,344 L594.7,345.8 L592.9,347.5 Z" fill="#383838"/>
<circle cx="592.9" cy="345.8" r="1.2" fill="#383838"/>
<path d="M600.7,362.2 L602.5,360.4 L604.3,362.2 L602.5,363.9 Z" fill="#383838"/>
<circle cx="602.5" cy="362.2" r="1.2" fill="#383838"/>
<path d="M598.3,362.2 L600.1,360.4 L601.9,362.2 L600.1,363.9 Z" fill="#383838"/>
<circle cx="600.1" cy="362.2" r="1.2" fill="#383838"/>
<path d="M595.9,362.2 L597.7,360.4 L599.5,362.2 L597.7,363.9 Z" fill="#383838"/>
<circle cx="597.7" cy="362.2" r="1.2" fill="#383838"/>
<path d="M593.5,362.2 L595.3,360.4 L597.1,362.2 L595.3,363.9 Z" fill="#383838"/>
<circle cx="595.3" cy="362.2" r="1.2" fill="#383838"/>
<path d="M591.1,362.2 L592.9,360.4 L594.7,362.2 L592.9,363.9 Z" fill="#383838"/>
<circle cx="592.9" cy="362.2" r="1.2" fill="#383838"/>
<path d="M588.7,362.2 L590.5,360.4 L592.3,362.2 L590.5,363.9 Z" fill="#383838"/>
<circle cx="590.5" cy="362.2" r="1.2" fill="#383838"/>
<path d="M586.3,362.2 L588.1,360.4 L589.9,362.2 L588.1,363.9 Z" fill="#383838"/>
<circle cx="588.1" cy="362.2" r="1.2" fill="#383838"/>
<path d="M600.7,378.6 L602.5,376.8 L604.3,378.6 L602.5,380.3 Z" fill="#383838"/>
<circle cx="602.5" cy="378.6" r="1.2" fill="#383838"/>
<path d="M598.3,378.6 L600.1,376.8 L601.9,378.6 L600.1,380.3 Z" fill="#383838"/>
<circle cx="600.1" cy="378.6" r="1.2" fill="#383838"/>
<path d="M600.7,395 L602.5,393.3 L604.3,395 L602.5,396.8 Z" fill="#383838"/>
<circle cx="602.5" cy="395" r="1.2" fill="#383838"/>
<path d="M598.3,395 L600.1,393.3 L601.9,395 L600.1,396.8 Z" fill="#383838"/>
<circle cx="600.1" cy="395" r="1.2" fill="#383838"/>
<path d="M595.9,395 L597.7,393.3 L599.5,395 L597.7,396.8 Z" fill="#383838"/>
<circle cx="597.7" cy="395" r="1.2" fill="#383838"/>
<path d="M600.7,411.4 L602.5,409.7 L604.3,411.4 L602.5,413.2 Z" fill="#383838"/>
<circle cx="602.5" cy="411.4" r="1.2" fill="#383838"/>
<path d="M598.3,411.4 L600.1,409.7 L601.9,411.4 L600.1,413.2 Z" fill="#383838"/>
<circle cx="600.1" cy="411.4" r="1.2" fill="#383838"/>
<path d="M595.9,411.4 L597.7,409.7 L599.5,411.4 L597.7,413.2 Z" fill="#383838"/>
<circle cx="597.7" cy="411.4" r="1.2" fill="#383838"/>
<path d="M593.5,411.4 L595.3,409.7 L597.1,411.4 L595.3,413.2 Z" fill="#383838"/>
<circle cx="595.3" cy="411.4" r="1.2" fill="#383838"/>
<path d="M591.1,411.4 L592.9,409.7 L594.7,411.4 L592.9,413.2 Z" fill="#383838"/>
<circle cx="592.9" cy="411.4" r="1.2" fill="#383838"/>
<path d="M600.7,427.8 L602.5,426.1 L604.3,427.8 L602.5,429.6 Z" fill="#383838"/>
<circle cx="602.5" cy="427.8" r="1.2" fill="#383838"/>
<path d="M600.7,444.3 L602.5,442.5 L604.3,444.3 L602.5,446 Z" fill="#383838"/>
<circle cx="602.5" cy="444.3" r="1.2" fill="#383838"/>
<path d="M598.3,444.3 L600.1,442.5 L601.9,444.3 L600.1,446 Z" fill="#383838"/>
<circle cx="600.1" cy="444.3" r="1.2" fill="#383838"/>
<path d="M595.9,444.3 L597.7,442.5 L599.5,444.3 L597.7,446 Z" fill="#383838"/>
<circle cx="597.7" cy="444.3" r="1.2" fill="#383838"/>
<path d="M600.7,460.7 L602.5,458.9 L604.3,460.7 L602.5,462.4 Z" fill="#383838"/>
<circle cx="602.5" cy="460.7" r="1.2" fill="#383838"/>
<line x1="609.1" y1="349.6" x2="609.1" y2="422.7" stroke="#4a4a4a" stroke-width="1.3" stroke-opacity="0.85"/>
<circle cx="608.7" cy="385.8" r="2.8" fill="#404040"/>
<line x1="403.3" y1="529.1" x2="403.3" y2="755.4" stroke="#444" stroke-width="1" />
<line x1="398.8" y1="755.2" x2="403.3" y2="755.2" stroke="#444" stroke-width="1" />
<text x="395.8" y="759.8" font-size="13" font-weight="bold" text-anchor="end" fill="#000" >−0.2</text>
<line x1="398.8" y1="705.1" x2="403.3" y2="705.1" stroke="#444" stroke-width="1" />
<text x="395.8" y="709.7" font-size="13" font-weight="bold" text-anchor="end" fill="#000" >0.0</text>
<line x1="398.8" y1="655" x2="403.3" y2="655" stroke="#444" stroke-width="1" />
<text x="395.8" y="659.6" font-size="13" font-weight="bold" text-anchor="end" fill="#000" >0.2</text>
<line x1="398.8" y1="604.9" x2="403.3" y2="604.9" stroke="#444" stroke-width="1" />
<text x="395.8" y="609.5" font-size="13" font-weight="bold" text-anchor="end" fill="#000" >0.4</text>
<line x1="398.8" y1="554.8" x2="403.3" y2="554.8" stroke="#444" stroke-width="1" />
<text x="395.8" y="559.4" font-size="13" font-weight="bold" text-anchor="end" fill="#000" >0.6</text>
<line x1="400.8" y1="730.1" x2="403.3" y2="730.1" stroke="#444" stroke-width="1" />
<line x1="400.8" y1="680.1" x2="403.3" y2="680.1" stroke="#444" stroke-width="1" />
<line x1="400.8" y1="630" x2="403.3" y2="630" stroke="#444" stroke-width="1" />
<line x1="400.8" y1="579.9" x2="403.3" y2="579.9" stroke="#444" stroke-width="1" />
<line x1="400.8" y1="529.8" x2="403.3" y2="529.8" stroke="#444" stroke-width="1" />
<line x1="403.3" y1="755.4" x2="683.7" y2="755.4" stroke="#444" stroke-width="1" />
<line x1="450.3" y1="755.4" x2="450.3" y2="759.9" stroke="#444" stroke-width="1" />
<line x1="543.4" y1="755.4" x2="543.4" y2="759.9" stroke="#444" stroke-width="1" />
<line x1="637.3" y1="755.4" x2="637.3" y2="759.9" stroke="#444" stroke-width="1" />
<text x="450.3" y="772.4" font-size="12.6" font-weight="bold" text-anchor="middle" fill="#000" >Control</text>
<text x="544.5" y="772.4" font-size="12.6" font-weight="bold" text-anchor="middle" fill="#000" >ICU-S</text>
<text x="638.3" y="772.4" font-size="12.6" font-weight="bold" text-anchor="middle" fill="#000" >ICU-NS</text>
<text x="349.6" y="644.4" font-size="12.75" font-weight="bold" text-anchor="middle" fill="#000" transform="rotate(-90 349.6 644.4)" >Maximum mitochondrial respiration</text>
<text x="366.9" y="642.7" font-size="12.8" font-weight="bold" text-anchor="middle" fill="#000" transform="rotate(-90 366.9 642.7)" >(pmol/min/K cells)</text>
<path d="M448.9,549.7 L448.9,547.2 L642.3,547.2 L642.3,549.7" fill="none" stroke="#111" stroke-width="1.2"/>
<text x="545.5" y="539.9" font-size="13" font-weight="bold" text-anchor="middle" fill="#000" >p=0.065</text>
<path d="M450.7,608 L451,608 C451.2,609.2 451.7,612.1 452.2,615 C452.7,617.9 452.8,620.1 454,625.2 C455.2,630.3 458,638.3 459.7,645.4 C461.4,652.5 463,660.2 464.1,667.7 C465.2,675.2 466.4,683.8 466.4,690.1 C466.4,696.5 465.8,700.9 464.1,705.8 C462.4,710.6 458.4,715.2 456.3,719.2 C454.2,723.2 452.3,728.1 451.5,729.9 L450.7,729.9 Z" fill="#808080" stroke="#444" stroke-width="0.7" stroke-linejoin="round"/>
<path d="M446.9,642.5 L448.7,640.7 L450.5,642.5 L448.7,644.2 Z" fill="#383838"/>
<circle cx="448.7" cy="642.5" r="1.2" fill="#383838"/>
<path d="M446.9,667.5 L448.7,665.8 L450.5,667.5 L448.7,669.3 Z" fill="#383838"/>
<circle cx="448.7" cy="667.5" r="1.2" fill="#383838"/>
<path d="M443.4,667.5 L445.2,665.8 L447,667.5 L445.2,669.3 Z" fill="#383838"/>
<circle cx="445.2" cy="667.5" r="1.2" fill="#383838"/>
<path d="M446.9,692.6 L448.7,690.8 L450.5,692.6 L448.7,694.3 Z" fill="#383838"/>
<circle cx="448.7" cy="692.6" r="1.2" fill="#383838"/>
<path d="M443.4,692.6 L445.2,690.8 L447,692.6 L445.2,694.3 Z" fill="#383838"/>
<circle cx="445.2" cy="692.6" r="1.2" fill="#383838"/>
<path d="M439.9,692.6 L441.7,690.8 L443.5,692.6 L441.7,694.3 Z" fill="#383838"/>
<circle cx="441.7" cy="692.6" r="1.2" fill="#383838"/>
<path d="M436.4,692.6 L438.2,690.8 L440,692.6 L438.2,694.3 Z" fill="#383838"/>
<circle cx="438.2" cy="692.6" r="1.2" fill="#383838"/>
<line x1="456.3" y1="655.9" x2="456.3" y2="698.6" stroke="#4a4a4a" stroke-width="1.3" stroke-opacity="0.85"/>
<circle cx="455.9" cy="677.1" r="2.8" fill="#404040"/>
<path d="M544.5,570.6 L545,570.6 C545.2,573 545.5,580.7 546.5,585 C547.5,589.3 549,592.4 550.9,596.6 C552.8,600.8 555.7,605.7 558,610 C560.3,614.3 563.1,617.6 564.9,622.2 C566.7,626.8 567.5,632.4 568.8,637.5 C570.1,642.6 571.1,646.9 572.6,652.9 C574.1,658.9 578.1,666.5 577.7,673.3 C577.3,680.1 573.4,687.3 570,693.7 C566.6,700.1 561.4,705.6 557.3,711.6 C553.2,717.6 547.3,726.5 545.3,729.5 L544.5,729.5 Z" fill="#5b97e8" stroke="#444" stroke-width="0.7" stroke-linejoin="round"/>
<path d="M540.7,617.4 L542.5,615.7 L544.3,617.4 L542.5,619.2 Z" fill="#383838"/>
<circle cx="542.5" cy="617.4" r="1.2" fill="#383838"/>
<path d="M537.2,617.4 L539,615.7 L540.8,617.4 L539,619.2 Z" fill="#383838"/>
<circle cx="539" cy="617.4" r="1.2" fill="#383838"/>
<path d="M540.7,642.5 L542.5,640.7 L544.3,642.5 L542.5,644.2 Z" fill="#383838"/>
<circle cx="542.5" cy="642.5" r="1.2" fill="#383838"/>
<path d="M537.2,642.5 L539,640.7 L540.8,642.5 L539,644.2 Z" fill="#383838"/>
<circle cx="539" cy="642.5" r="1.2" fill="#383838"/>
<path d="M533.7,642.5 L535.5,640.7 L537.3,642.5 L535.5,644.2 Z" fill="#383838"/>
<circle cx="535.5" cy="642.5" r="1.2" fill="#383838"/>
<path d="M530.2,642.5 L532,640.7 L533.8,642.5 L532,644.2 Z" fill="#383838"/>
<circle cx="532" cy="642.5" r="1.2" fill="#383838"/>
<path d="M540.7,667.5 L542.5,665.8 L544.3,667.5 L542.5,669.3 Z" fill="#383838"/>
<circle cx="542.5" cy="667.5" r="1.2" fill="#383838"/>
<path d="M537.2,667.5 L539,665.8 L540.8,667.5 L539,669.3 Z" fill="#383838"/>
<circle cx="539" cy="667.5" r="1.2" fill="#383838"/>
<path d="M533.7,667.5 L535.5,665.8 L537.3,667.5 L535.5,669.3 Z" fill="#383838"/>
<circle cx="535.5" cy="667.5" r="1.2" fill="#383838"/>
<path d="M530.2,667.5 L532,665.8 L533.8,667.5 L532,669.3 Z" fill="#383838"/>
<circle cx="532" cy="667.5" r="1.2" fill="#383838"/>
<path d="M540.7,692.6 L542.5,690.8 L544.3,692.6 L542.5,694.3 Z" fill="#383838"/>
<circle cx="542.5" cy="692.6" r="1.2" fill="#383838"/>
<path d="M537.2,692.6 L539,690.8 L540.8,692.6 L539,694.3 Z" fill="#383838"/>
<circle cx="539" cy="692.6" r="1.2" fill="#383838"/>
<path d="M533.7,692.6 L535.5,690.8 L537.3,692.6 L535.5,694.3 Z" fill="#383838"/>
<circle cx="535.5" cy="692.6" r="1.2" fill="#383838"/>
<path d="M530.2,692.6 L532,690.8 L533.8,692.6 L532,694.3 Z" fill="#383838"/>
<circle cx="532" cy="692.6" r="1.2" fill="#383838"/>
<path d="M526.7,692.6 L528.5,690.8 L530.3,692.6 L528.5,694.3 Z" fill="#383838"/>
<circle cx="528.5" cy="692.6" r="1.2" fill="#383838"/>
<line x1="550" y1="632.4" x2="550" y2="689.9" stroke="#4a4a4a" stroke-width="1.3" stroke-opacity="0.85"/>
<circle cx="549.6" cy="661" r="2.8" fill="#404040"/>
<path d="M638.3,554.5 L642.9,554.5 C644.8,559.4 651.1,574.8 654.4,583.9 C657.7,593 660.7,600.9 662.8,609.4 C664.9,617.9 665.3,626.5 667.1,635 C668.9,643.5 673.3,652 673.5,660.5 C673.7,669 672.4,677.6 668.4,686.1 C664.4,694.6 653.8,704.4 649.2,711.6 C644.6,718.8 642.2,726.5 640.8,729.5 L638.3,729.5 Z" fill="#f07474" stroke="#444" stroke-width="0.7" stroke-linejoin="round"/>
<path d="M634.5,567.3 L636.3,565.6 L638.1,567.3 L636.3,569.1 Z" fill="#383838"/>
<circle cx="636.3" cy="567.3" r="1.2" fill="#383838"/>
<path d="M634.5,592.4 L636.3,590.6 L638.1,592.4 L636.3,594.1 Z" fill="#383838"/>
<circle cx="636.3" cy="592.4" r="1.2" fill="#383838"/>
<path d="M631,592.4 L632.8,590.6 L634.6,592.4 L632.8,594.1 Z" fill="#383838"/>
<circle cx="632.8" cy="592.4" r="1.2" fill="#383838"/>
<path d="M634.5,617.4 L636.3,615.7 L638.1,617.4 L636.3,619.2 Z" fill="#383838"/>
<circle cx="636.3" cy="617.4" r="1.2" fill="#383838"/>
<path d="M631,617.4 L632.8,615.7 L634.6,617.4 L632.8,619.2 Z" fill="#383838"/>
<circle cx="632.8" cy="617.4" r="1.2" fill="#383838"/>
<path d="M634.5,642.5 L636.3,640.7 L638.1,642.5 L636.3,644.2 Z" fill="#383838"/>
<circle cx="636.3" cy="642.5" r="1.2" fill="#383838"/>
<path d="M631,642.5 L632.8,640.7 L634.6,642.5 L632.8,644.2 Z" fill="#383838"/>
<circle cx="632.8" cy="642.5" r="1.2" fill="#383838"/>
<path d="M627.5,642.5 L629.3,640.7 L631.1,642.5 L629.3,644.2 Z" fill="#383838"/>
<circle cx="629.3" cy="642.5" r="1.2" fill="#383838"/>
<path d="M634.5,667.5 L636.3,665.8 L638.1,667.5 L636.3,669.3 Z" fill="#383838"/>
<circle cx="636.3" cy="667.5" r="1.2" fill="#383838"/>
<path d="M631,667.5 L632.8,665.8 L634.6,667.5 L632.8,669.3 Z" fill="#383838"/>
<circle cx="632.8" cy="667.5" r="1.2" fill="#383838"/>
<path d="M627.5,667.5 L629.3,665.8 L631.1,667.5 L629.3,669.3 Z" fill="#383838"/>
<circle cx="629.3" cy="667.5" r="1.2" fill="#383838"/>
<path d="M624,667.5 L625.8,665.8 L627.6,667.5 L625.8,669.3 Z" fill="#383838"/>
<circle cx="625.8" cy="667.5" r="1.2" fill="#383838"/>
<path d="M620.5,667.5 L622.3,665.8 L624.1,667.5 L622.3,669.3 Z" fill="#383838"/>
<circle cx="622.3" cy="667.5" r="1.2" fill="#383838"/>
<path d="M634.5,692.6 L636.3,690.8 L638.1,692.6 L636.3,694.3 Z" fill="#383838"/>
<circle cx="636.3" cy="692.6" r="1.2" fill="#383838"/>
<path d="M631,692.6 L632.8,690.8 L634.6,692.6 L632.8,694.3 Z" fill="#383838"/>
<circle cx="632.8" cy="692.6" r="1.2" fill="#383838"/>
<path d="M627.5,692.6 L629.3,690.8 L631.1,692.6 L629.3,694.3 Z" fill="#383838"/>
<circle cx="629.3" cy="692.6" r="1.2" fill="#383838"/>
<line x1="643.3" y1="604.3" x2="643.3" y2="682.2" stroke="#4a4a4a" stroke-width="1.3" stroke-opacity="0.85"/>
<circle cx="642.9" cy="643.1" r="2.8" fill="#404040"/>
<text x="68.2" y="11.1" font-size="13" text-anchor="start" fill="#000" textLength="170" lengthAdjust="spacingAndGlyphs">Multi-sample: Neutrophils</text>
<polyline points="57.4,214.6 57.4,192.4 57.8,214.6 57.5,214.6 58.3,214.5 59.2,214.2 60,214.3 60.7,214.6 61.4,214.6 62.1,214.6 62.9,214.6 63.6,214.6 64.3,214.6 65,212.5 65.7,213.5 66.4,214.6 67.1,214.1 67.9,214.6 68.6,210.9 69.3,213.2 70,212.6 70.7,213.1 71.4,213.6 72.1,210.9 72.9,210.4 73.6,212.1 74.3,214.4 75,213 75.7,209.5 76.4,214.3 77.1,210.2 77.9,212.8 78.6,211 79.3,209.9 80,214.2 80.7,209.4 81.5,210.5 82.2,212.5 82.9,213.3 83.6,210.3 84.4,210.5 85.1,208.5 85.8,209.1 86.5,209.3 87.3,210.5 88,209.8 88.7,209.6 89.4,209.9 90.1,206.6 90.8,206.5 91.5,206.4 92.2,206.1 92.9,206.8 93.6,206.7 94.3,208.9 95,205.7 95.7,208.9 96.4,205.7 97.1,203.1 97.9,207.9 98.6,206.5 99.3,205.1 100,204 100.7,205.5 101.4,200.2 102.1,206.8 102.9,201.3 103.6,203 104.3,202.3 105,201.9 105.7,205.7 106.4,199.7 107.1,203.5 107.9,199.1 108.6,197.9 109.3,198.9 110,204.2 110.7,200.9 111.4,199.4 112.1,202.3 112.9,199.5 113.6,199.5 114.3,197.5 115,200.3 115.7,201.8 116.4,196.8 117.1,201.7 117.9,199 118.6,198.3 119.3,196.9 120,198.6 120.8,195.2 121.5,196.9 122.2,198.7 123,198 123.8,194 124.5,198.4 125.2,193.7 126,193.6 126.5,192.7 127,191.9 127.6,190.6 128.1,189.3 128.6,187.5 129.1,185.7 129.6,181.9 130.1,178.2 130.6,174.4 131.1,170.7 131.8,161.6 132.6,152.5 133.3,144 134.1,135.6 134.6,127.9 135.1,120.2 135.8,112.6 136.6,105.2 137.3,97.4 138.1,90.8 138.6,80.7 139,69.8 139.6,58.5 140.1,52.6 140.6,50 141.1,53.6 141.6,53.8 142.3,55.3 143.1,63.5 143.8,54.6 144.5,62.3 145,55.3 145.5,57.8 145.9,62.6 146.4,69.5 146.9,64.9 147.4,62.6 147.9,70.6 148.5,73.5 149.1,78.6 149.6,86.3 150.1,82.9 150.6,86.1 151.1,86.5 151.6,92.5 152.1,92.8 152.6,90.5 153.1,86.7 153.5,79 154,73.3 154.6,84.2 155.2,88.5 155.7,90.8 156.1,85.8 156.6,81.2 157.1,84.4 157.7,87.2 158.2,86.3 158.6,84.5 159.1,82.9 159.6,92.6 160.1,101.2 160.7,93.7 161.3,77 161.8,84.3 162.3,88.3 162.8,89.2 163.3,93.4 163.7,90.3 164.2,92.2 164.7,93.1 165.2,97 165.7,93.8 166.3,102.3 166.9,115.9 167.5,105.6 168,90.6 168.6,84.3 169.2,90.2 169.8,96.9 170.4,108.1 170.9,115.1 171.5,124.1 172,123.4 172.5,123.6 173,129.4 173.7,135.3 174.2,138.4 174.7,146.4 175.2,151 175.6,155.3 176.1,161.6 176.6,162.3 177.1,168.4 177.5,172.7 178,174.4 178.5,178.1 178.9,181.8 179.4,185.5 180,193.1 180.6,200.7 181.1,202 181.6,203.4 182.1,204.7 182.6,206 183.1,207.3 183.6,208.7 184.1,210 184.6,210.4 185,210.9 185.5,211.3 186,211.7 186.4,212.2 186.9,212.6 187.4,213 187.9,213.4 188.3,213.9 188.8,214.3 189.3,214.3 189.7,214.3 190.2,214.3 190.6,214.4 191.1,214.4 191.6,214.4 192,214.4 192.5,214.4 192.9,214.4 193.4,214.4 193.9,214.5 194.3,214.5 194.8,214.5 195.2,214.5 195.7,214.5 196.2,214.5 196.6,214.6 197.1,214.6 197.5,214.6 198,214.6" fill="none" stroke="#ff1a1a" stroke-width="0.9" stroke-linejoin="round" />
<polyline points="58,214.6 58.7,214.6 59.4,214.6 60.1,214.5 60.8,214.5 61.5,214.4 62.2,214.3 63,214.5 63.7,214.3 64.4,214.5 65.1,214 65.8,214.1 66.5,214 67.2,214.6 67.9,214.2 68.6,213.7 69.3,214.6 70,214.6 70.8,214.4 71.5,214.2 72.2,213.6 72.9,213.7 73.6,214.2 74.3,213.4 75,213.6 75.7,213.3 76.4,213.1 77.1,213.4 77.8,212.8 78.5,213.4 79.2,212.4 79.9,212.9 80.6,212.3 81.3,212.5 82,212 82.8,211.7 83.5,212.7 84.2,212.8 85,212.5 85.8,212 86.5,211.1 87.2,210.3 88,210.4 88.8,209.3 89.6,211 90.4,209.5 91.2,211.8 92,209.7 92.7,210.4 93.4,210.6 94.1,207.1 94.9,208.3 95.6,210.3 96.3,207.9 97,209.8 97.8,208.3 98.5,207.5 99.2,210.2 100,210.5 100.8,208.7 101.6,207.3 102.4,208.4 103.2,211.2 104,210.2 104.8,207.4 105.6,206.2 106.4,205.8 107.2,206.1 108,208.1 108.5,206.7 109,205.9 109.5,205.2 110,205.2 110.5,205.4 111,205.5 111.5,206.8 112,206.2 112.8,209.1 113.6,206.1 114.4,209.9 115.2,207.5 116,208.7 116.8,208.6 117.6,208.9 118.4,211.3 119.2,210.6 120,209.3 120.7,211.4 121.4,209.2 122.1,210.2 122.9,211.5 123.6,210.8 124.3,209.7 125,212.3 125.8,210.8 126.5,210.9 127.2,211.3 128,210.6 128.5,211 129,209.7 129.5,209.3 130,209.2 130.6,207.8 131.1,205.7 131.8,201.3 132.5,198.2 133.3,195.3 134.1,190.9 134.8,182.2 135.6,177.4 136.1,170.9 136.6,164.6 137.1,158.7 137.6,154 138.1,145.5 138.6,142 139.1,134.2 139.6,129.5 140.1,122.8 140.7,115.1 141.4,109.4 142.2,104 142.9,102.2 143.7,96.2 144.3,99.3 145,99.4 145.7,103.3 146.5,103.3 147.2,105.7 147.7,108.3 148.2,114 148.7,115.9 149.2,119.4 149.7,140.7 150.5,142.1 151.4,145.8 152.2,150.8 153,151.3 153.7,155 154.5,153.3 155.2,159.5 155.9,158.1 156.6,158.5 157.3,159.9 158.1,162.2 158.8,162.2 159.6,161.7 160.3,162.7 161,160.6 161.5,161.7 162.1,166 162.6,166.6 163.1,169.9 163.6,171.3 164.1,171.7 164.5,168.6 165,168.8 165.4,167.4 165.9,169.6 166.8,169.4 167.2,170 167.7,173.8 168.5,172.5 169.3,177.1 170.1,181.3 170.6,180.5 171.1,179 171.5,178.7 172,177 172.8,181.4 173.6,186.5 174.4,192.8 175.1,197.6 175.9,203.2 176.6,204.7 177.3,206.4 178,207.4 178.7,208.9 179.4,211.7 180.2,211.9 181,213 181.8,212.1 182.5,213.1 183.3,213.8 184.1,214.5 184.8,214.2 185.6,214.6 186.3,214.2 187.1,214.5 187.8,214.6 188.5,214.6 189.3,214.6 190,214.6" fill="none" stroke="#0000ff" stroke-width="0.9" stroke-linejoin="round" />
<polyline points="58,214.6 58.7,214.6 59.4,214.6 60.1,214.6 60.8,214.5 61.5,214.6 62.3,214.6 63,214.5 63.7,214.5 64.4,214.4 65.1,214.3 65.8,214.4 66.5,214.5 67.2,214.2 67.9,214.5 68.6,214.2 69.4,214.2 70.1,214.3 70.8,214.6 71.5,214.5 72.2,214.6 72.9,214.4 73.6,213.7 74.3,214.2 75,214.3 75.7,213.9 76.5,214.6 77.2,214.2 77.9,214.1 78.6,214.5 79.3,213.8 80,214.6 80.7,214.3 81.4,214.2 82.1,213.9 82.9,214 83.6,213.4 84.3,213.5 85,214.3 85.7,213.4 86.4,214.2 87.1,213 87.9,214.5 88.6,214.5 89.3,213.8 90,213.6 90.7,213.5 91.4,213.7 92.1,212.1 92.9,212.9 93.6,213.7 94.3,212.5 95,214 95.7,214.1 96.4,212.5 97.1,212.3 97.9,212.5 98.6,212.2 99.3,214.3 100,212.3 100.7,211.4 101.4,211.8 102.1,213.1 102.9,213.8 103.6,212.4 104.3,211.8 105,212.8 105.7,213.1 106.4,211.4 107.1,212.3 107.9,213.1 108.6,212.5 109.3,210.9 110,211.4 110.7,212 111.4,213.4 112.1,211.6 112.9,212.3 113.6,211.4 114.3,211 115,210.7 115.7,213.1 116.4,212.9 117.1,211.7 117.8,213.2 118.5,212.5 119.2,213.3 119.9,213.3 120.6,212.2 121.3,213.5 122,213.4 122.8,212.4 123.6,212.6 124.4,212.9 125.2,211.9 126,211.3 126.5,211.4 127,210.9 127.5,211.2 128,209.8 128.5,208.8 129.1,208.1 129.6,206.5 130.1,206.4 130.8,202 131.6,198.5 132.3,194.8 133.1,190.4 133.8,184.1 134.6,174.9 135.1,171.3 135.6,163.2 136.1,158.6 136.6,151.8 137.3,146.1 138.1,142.1 138.8,136 139.6,128.4 140.1,126.4 140.6,120.4 141.1,116.3 141.7,112.4 142.5,118.1 143.2,121.6 143.7,127.9 144.2,131.6 145,135 145.8,137.5 146.3,143.3 146.8,143.4 147.2,148.5 147.7,149.2 148.4,158.7 149.2,164.2 149.7,170.6 150.2,176.4 150.7,181 151.2,184.8 151.7,187.5 152.2,190.4 152.9,190.8 153.6,188.5 154.3,188.6 155,187.1 155.8,187.9 156.7,185.8 157.6,187 158.4,189.2 158.9,184.8 159.4,186.2 160,185.8 160.5,186.5 161.4,186.2 162.2,184.6 163.1,181.9 163.8,182.5 164.6,184.3 165.3,188.5 166,189.1 166.8,188.1 167.6,189.3 168.5,191.7 169.3,193.4 170.1,196.3 170.6,198 171.1,197 171.5,199.5 172,200.9 172.4,200.3 172.9,202.5 173.8,204.5 174.2,206.1 174.7,207.4 175.5,207.9 176.3,209.8 177.2,209.1 178,211.1 178.8,210.6 179.5,211.7 180.3,212.2 181,212.7 181.8,212.2 182.5,213.2 183.3,213.3 184,213 184.8,213.6 185.5,213 186.3,214 187,213.3 187.7,214.3 188.4,214 189.1,214.1 189.8,213.9 190.6,214.2 191.3,214.2 192,214.2 192.7,214.3 193.4,214.3" fill="none" stroke="#000" stroke-width="0.9" stroke-linejoin="round" />
<line x1="109.3" y1="154.6" x2="214.5" y2="154.6" stroke="#ff3030" stroke-width="1.1" />
<line x1="109.3" y1="149.6" x2="109.3" y2="159.6" stroke="#ff3030" stroke-width="1.1" />
<line x1="214.5" y1="149.6" x2="214.5" y2="159.6" stroke="#ff3030" stroke-width="1.1" />
<line x1="109.3" y1="184.8" x2="154.2" y2="184.8" stroke="#3030ff" stroke-width="1.1" />
<line x1="109.3" y1="179.8" x2="109.3" y2="189.8" stroke="#3030ff" stroke-width="1.1" />
<line x1="154.2" y1="179.8" x2="154.2" y2="189.8" stroke="#3030ff" stroke-width="1.1" />
<line x1="154.2" y1="208.2" x2="214.9" y2="208.2" stroke="#333" stroke-width="1.1" />
<line x1="154.2" y1="203.2" x2="154.2" y2="213.2" stroke="#333" stroke-width="1.1" />
<line x1="214.9" y1="203.2" x2="214.9" y2="213.2" stroke="#333" stroke-width="1.1" />
<text x="109" y="142.8" font-size="10.8" text-anchor="start" fill="#ff3030" stroke="#fff" stroke-width="2.2" paint-order="stroke" stroke-linejoin="round" textLength="122">TMRM Positive Neutrophils</text>
<text x="109" y="174.6" font-size="10.8" text-anchor="start" fill="#3030ff" stroke="#fff" stroke-width="2.2" paint-order="stroke" stroke-linejoin="round" textLength="49">TMRM Low</text>
<text x="154.5" y="196.5" font-size="10.8" text-anchor="start" fill="#333" stroke="#fff" stroke-width="2.2" paint-order="stroke" stroke-linejoin="round" textLength="51.5">TMRM High</text>
<line x1="57.4" y1="15.3" x2="253" y2="15.3" stroke="#222" stroke-width="1" />
<line x1="252.9" y1="15.3" x2="252.9" y2="215.3" stroke="#222" stroke-width="1.2" />
<line x1="57.5" y1="15.3" x2="57.5" y2="215.3" stroke="#6a6a6a" stroke-width="1.6" />
<line x1="57.4" y1="214.9" x2="253" y2="214.9" stroke="#6a6a6a" stroke-width="1.6" />
<line x1="51.4" y1="214.6" x2="57.5" y2="214.6" stroke="#6a6a6a" stroke-width="1.3" />
<text x="43" y="214.6" font-size="10" fill="#5a5a5a" text-anchor="middle" dominant-baseline="central" transform="rotate(-90 43 214.6)">0</text>
<line x1="53.2" y1="204" x2="57.5" y2="204" stroke="#6a6a6a" stroke-width="1.1" />
<line x1="53.2" y1="193.4" x2="57.5" y2="193.4" stroke="#6a6a6a" stroke-width="1.1" />
<line x1="53.2" y1="182.8" x2="57.5" y2="182.8" stroke="#6a6a6a" stroke-width="1.1" />
<line x1="53.2" y1="172.1" x2="57.5" y2="172.1" stroke="#6a6a6a" stroke-width="1.1" />
<line x1="51.4" y1="161.5" x2="57.5" y2="161.5" stroke="#6a6a6a" stroke-width="1.3" />
<text x="43" y="161.5" font-size="10" fill="#5a5a5a" text-anchor="middle" dominant-baseline="central" transform="rotate(-90 43 161.5)">100</text>
<line x1="53.2" y1="150.9" x2="57.5" y2="150.9" stroke="#6a6a6a" stroke-width="1.1" />
<line x1="53.2" y1="140.3" x2="57.5" y2="140.3" stroke="#6a6a6a" stroke-width="1.1" />
<line x1="53.2" y1="129.7" x2="57.5" y2="129.7" stroke="#6a6a6a" stroke-width="1.1" />
<line x1="53.2" y1="119.1" x2="57.5" y2="119.1" stroke="#6a6a6a" stroke-width="1.1" />
<line x1="51.4" y1="108.5" x2="57.5" y2="108.5" stroke="#6a6a6a" stroke-width="1.3" />
<text x="43" y="108.5" font-size="10" fill="#5a5a5a" text-anchor="middle" dominant-baseline="central" transform="rotate(-90 43 108.5)">200</text>
<line x1="53.2" y1="97.8" x2="57.5" y2="97.8" stroke="#6a6a6a" stroke-width="1.1" />
<line x1="53.2" y1="87.2" x2="57.5" y2="87.2" stroke="#6a6a6a" stroke-width="1.1" />
<line x1="53.2" y1="76.6" x2="57.5" y2="76.6" stroke="#6a6a6a" stroke-width="1.1" />
<line x1="53.2" y1="66" x2="57.5" y2="66" stroke="#6a6a6a" stroke-width="1.1" />
<line x1="51.4" y1="55.4" x2="57.5" y2="55.4" stroke="#6a6a6a" stroke-width="1.3" />
<text x="43" y="55.4" font-size="10" fill="#5a5a5a" text-anchor="middle" dominant-baseline="central" transform="rotate(-90 43 55.4)">300</text>
<line x1="53.2" y1="44.8" x2="57.5" y2="44.8" stroke="#6a6a6a" stroke-width="1.1" />
<line x1="53.2" y1="34.2" x2="57.5" y2="34.2" stroke="#6a6a6a" stroke-width="1.1" />
<line x1="53.2" y1="23.5" x2="57.5" y2="23.5" stroke="#6a6a6a" stroke-width="1.1" />
<line x1="57.3" y1="214.9" x2="57.3" y2="220" stroke="#6a6a6a" stroke-width="1.2" />
<text x="55.8" y="232.3" font-size="11" fill="#5a5a5a" text-anchor="middle">10<tspan font-size="8" dy="-4.5">2</tspan></text>
<line x1="71.9" y1="214.9" x2="71.9" y2="218" stroke="#6a6a6a" stroke-width="1" />
<line x1="80.5" y1="214.9" x2="80.5" y2="218" stroke="#6a6a6a" stroke-width="1" />
<line x1="86.6" y1="214.9" x2="86.6" y2="218" stroke="#6a6a6a" stroke-width="1" />
<line x1="91.3" y1="214.9" x2="91.3" y2="218" stroke="#6a6a6a" stroke-width="1" />
<line x1="95.1" y1="214.9" x2="95.1" y2="218" stroke="#6a6a6a" stroke-width="1" />
<line x1="98.4" y1="214.9" x2="98.4" y2="218" stroke="#6a6a6a" stroke-width="1" />
<line x1="101.2" y1="214.9" x2="101.2" y2="218" stroke="#6a6a6a" stroke-width="1" />
<line x1="103.7" y1="214.9" x2="103.7" y2="218" stroke="#6a6a6a" stroke-width="1" />
<line x1="105.9" y1="214.9" x2="105.9" y2="220" stroke="#6a6a6a" stroke-width="1.2" />
<text x="104.4" y="232.3" font-size="11" fill="#5a5a5a" text-anchor="middle">10<tspan font-size="8" dy="-4.5">3</tspan></text>
<line x1="120.5" y1="214.9" x2="120.5" y2="218" stroke="#6a6a6a" stroke-width="1" />
<line x1="129.1" y1="214.9" x2="129.1" y2="218" stroke="#6a6a6a" stroke-width="1" />
<line x1="135.2" y1="214.9" x2="135.2" y2="218" stroke="#6a6a6a" stroke-width="1" />
<line x1="139.9" y1="214.9" x2="139.9" y2="218" stroke="#6a6a6a" stroke-width="1" />
<line x1="143.7" y1="214.9" x2="143.7" y2="218" stroke="#6a6a6a" stroke-width="1" />
<line x1="147" y1="214.9" x2="147" y2="218" stroke="#6a6a6a" stroke-width="1" />
<line x1="149.8" y1="214.9" x2="149.8" y2="218" stroke="#6a6a6a" stroke-width="1" />
<line x1="152.3" y1="214.9" x2="152.3" y2="218" stroke="#6a6a6a" stroke-width="1" />
<line x1="154.5" y1="214.9" x2="154.5" y2="220" stroke="#6a6a6a" stroke-width="1.2" />
<text x="153" y="232.3" font-size="11" fill="#5a5a5a" text-anchor="middle">10<tspan font-size="8" dy="-4.5">4</tspan></text>
<line x1="169.1" y1="214.9" x2="169.1" y2="218" stroke="#6a6a6a" stroke-width="1" />
<line x1="177.7" y1="214.9" x2="177.7" y2="218" stroke="#6a6a6a" stroke-width="1" />
<line x1="183.8" y1="214.9" x2="183.8" y2="218" stroke="#6a6a6a" stroke-width="1" />
<line x1="188.5" y1="214.9" x2="188.5" y2="218" stroke="#6a6a6a" stroke-width="1" />
<line x1="192.3" y1="214.9" x2="192.3" y2="218" stroke="#6a6a6a" stroke-width="1" />
<line x1="195.6" y1="214.9" x2="195.6" y2="218" stroke="#6a6a6a" stroke-width="1" />
<line x1="198.4" y1="214.9" x2="198.4" y2="218" stroke="#6a6a6a" stroke-width="1" />
<line x1="200.9" y1="214.9" x2="200.9" y2="218" stroke="#6a6a6a" stroke-width="1" />
<line x1="203.1" y1="214.9" x2="203.1" y2="220" stroke="#6a6a6a" stroke-width="1.2" />
<text x="201.6" y="232.3" font-size="11" fill="#5a5a5a" text-anchor="middle">10<tspan font-size="8" dy="-4.5">5</tspan></text>
<line x1="217.7" y1="214.9" x2="217.7" y2="218" stroke="#6a6a6a" stroke-width="1" />
<line x1="226.3" y1="214.9" x2="226.3" y2="218" stroke="#6a6a6a" stroke-width="1" />
<line x1="232.4" y1="214.9" x2="232.4" y2="218" stroke="#6a6a6a" stroke-width="1" />
<line x1="237.1" y1="214.9" x2="237.1" y2="218" stroke="#6a6a6a" stroke-width="1" />
<line x1="240.9" y1="214.9" x2="240.9" y2="218" stroke="#6a6a6a" stroke-width="1" />
<line x1="244.2" y1="214.9" x2="244.2" y2="218" stroke="#6a6a6a" stroke-width="1" />
<line x1="247" y1="214.9" x2="247" y2="218" stroke="#6a6a6a" stroke-width="1" />
<line x1="249.5" y1="214.9" x2="249.5" y2="218" stroke="#6a6a6a" stroke-width="1" />
<line x1="251.7" y1="214.9" x2="251.7" y2="220" stroke="#6a6a6a" stroke-width="1.2" />
<text x="250.2" y="232.3" font-size="11" fill="#5a5a5a" text-anchor="middle">10<tspan font-size="8" dy="-4.5">6</tspan></text>
<line x1="58.3" y1="214.2" x2="58.3" y2="192.4" stroke="#ff1a1a" stroke-width="1.0" />
<text x="148.5" y="246.5" font-size="15.2" text-anchor="middle" fill="#000" textLength="88">TMRM PE-A</text>
<text x="31.8" y="112.7" font-size="16" text-anchor="middle" fill="#000" transform="rotate(-90 31.8 112.7)" textLength="44">Count</text>
<rect x="197.6" y="32.7" width="10.4" height="10.2" fill="#000" stroke="#333" stroke-width="0.8"/>
<text x="212" y="42.4" font-size="10.2" text-anchor="start" fill="#333" >Control</text>
<rect x="197.6" y="45.6" width="10.4" height="10.2" fill="#0000ff" stroke="#333" stroke-width="0.8"/>
<text x="212" y="55.3" font-size="10.2" text-anchor="start" fill="#333" >ICU-S</text>
<rect x="197.6" y="58.5" width="10.4" height="10.2" fill="#ff0000" stroke="#333" stroke-width="0.8"/>
<text x="212" y="68.2" font-size="10.2" text-anchor="start" fill="#333" >ICU-NS</text>
<line x1="47.7" y1="537.7" x2="47.7" y2="752.1" stroke="#444" stroke-width="1" />
<line x1="43.2" y1="752.1" x2="47.7" y2="752.1" stroke="#444" stroke-width="1" />
<text x="41.5" y="756.5" font-size="12.5" font-weight="bold" text-anchor="end" fill="#000" >−5</text>
<line x1="43.2" y1="726.7" x2="47.7" y2="726.7" stroke="#444" stroke-width="1" />
<text x="41.5" y="731.1" font-size="12.5" font-weight="bold" text-anchor="end" fill="#000" >0</text>
<line x1="43.2" y1="701.4" x2="47.7" y2="701.4" stroke="#444" stroke-width="1" />
<text x="41.5" y="705.8" font-size="12.5" font-weight="bold" text-anchor="end" fill="#000" >5</text>
<line x1="43.2" y1="676" x2="47.7" y2="676" stroke="#444" stroke-width="1" />
<text x="41.5" y="680.4" font-size="12.5" font-weight="bold" text-anchor="end" fill="#000" >10</text>
<line x1="43.2" y1="650.7" x2="47.7" y2="650.7" stroke="#444" stroke-width="1" />
<text x="41.5" y="655.1" font-size="12.5" font-weight="bold" text-anchor="end" fill="#000" >15</text>
<line x1="43.2" y1="625.3" x2="47.7" y2="625.3" stroke="#444" stroke-width="1" />
<text x="41.5" y="629.7" font-size="12.5" font-weight="bold" text-anchor="end" fill="#000" >20</text>
<line x1="43.2" y1="600" x2="47.7" y2="600" stroke="#444" stroke-width="1" />
<text x="41.5" y="604.4" font-size="12.5" font-weight="bold" text-anchor="end" fill="#000" >25</text>
<line x1="43.2" y1="574.6" x2="47.7" y2="574.6" stroke="#444" stroke-width="1" />
<text x="41.5" y="579" font-size="12.5" font-weight="bold" text-anchor="end" fill="#000" >30</text>
<line x1="43.2" y1="549.2" x2="47.7" y2="549.2" stroke="#444" stroke-width="1" />
<text x="41.5" y="553.6" font-size="12.5" font-weight="bold" text-anchor="end" fill="#000" >35</text>
<line x1="45.2" y1="739.4" x2="47.7" y2="739.4" stroke="#444" stroke-width="1" />
<line x1="45.2" y1="714" x2="47.7" y2="714" stroke="#444" stroke-width="1" />
<line x1="45.2" y1="688.7" x2="47.7" y2="688.7" stroke="#444" stroke-width="1" />
<line x1="45.2" y1="663.3" x2="47.7" y2="663.3" stroke="#444" stroke-width="1" />
<line x1="45.2" y1="638" x2="47.7" y2="638" stroke="#444" stroke-width="1" />
<line x1="45.2" y1="612.6" x2="47.7" y2="612.6" stroke="#444" stroke-width="1" />
<line x1="45.2" y1="587.3" x2="47.7" y2="587.3" stroke="#444" stroke-width="1" />
<line x1="45.2" y1="561.9" x2="47.7" y2="561.9" stroke="#444" stroke-width="1" />
<line x1="47.7" y1="752.1" x2="323.8" y2="752.1" stroke="#444" stroke-width="1" />
<line x1="47.7" y1="752.1" x2="47.7" y2="756.6" stroke="#444" stroke-width="1" />
<text x="47.7" y="768.5" font-size="12.5" font-weight="bold" text-anchor="middle" fill="#000" >0</text>
<line x1="67.4" y1="752.1" x2="67.4" y2="754.6" stroke="#444" stroke-width="1" />
<line x1="87" y1="752.1" x2="87" y2="756.6" stroke="#444" stroke-width="1" />
<text x="87" y="768.5" font-size="12.5" font-weight="bold" text-anchor="middle" fill="#000" >20</text>
<line x1="106.7" y1="752.1" x2="106.7" y2="754.6" stroke="#444" stroke-width="1" />
<line x1="126.3" y1="752.1" x2="126.3" y2="756.6" stroke="#444" stroke-width="1" />
<text x="126.3" y="768.5" font-size="12.5" font-weight="bold" text-anchor="middle" fill="#000" >40</text>
<line x1="145.9" y1="752.1" x2="145.9" y2="754.6" stroke="#444" stroke-width="1" />
<line x1="165.6" y1="752.1" x2="165.6" y2="756.6" stroke="#444" stroke-width="1" />
<text x="165.6" y="768.5" font-size="12.5" font-weight="bold" text-anchor="middle" fill="#000" >60</text>
<line x1="185.2" y1="752.1" x2="185.2" y2="754.6" stroke="#444" stroke-width="1" />
<line x1="204.9" y1="752.1" x2="204.9" y2="756.6" stroke="#444" stroke-width="1" />
<text x="204.9" y="768.5" font-size="12.5" font-weight="bold" text-anchor="middle" fill="#000" >80</text>
<line x1="224.6" y1="752.1" x2="224.6" y2="754.6" stroke="#444" stroke-width="1" />
<line x1="244.2" y1="752.1" x2="244.2" y2="756.6" stroke="#444" stroke-width="1" />
<text x="244.2" y="768.5" font-size="12.5" font-weight="bold" text-anchor="middle" fill="#000" >100</text>
<line x1="263.9" y1="752.1" x2="263.9" y2="754.6" stroke="#444" stroke-width="1" />
<line x1="283.5" y1="752.1" x2="283.5" y2="756.6" stroke="#444" stroke-width="1" />
<text x="283.5" y="768.5" font-size="12.5" font-weight="bold" text-anchor="middle" fill="#000" >120</text>
<line x1="303.2" y1="752.1" x2="303.2" y2="754.6" stroke="#444" stroke-width="1" />
<line x1="322.8" y1="752.1" x2="322.8" y2="756.6" stroke="#444" stroke-width="1" />
<text x="322.8" y="768.5" font-size="12.5" font-weight="bold" text-anchor="middle" fill="#000" >140</text>
<text x="185.4" y="789.1" font-size="12.4" font-weight="bold" text-anchor="middle" fill="#000" >Time (Minutes)</text>
<text x="14.2" y="645" font-size="12.2" font-weight="bold" text-anchor="middle" fill="#000" transform="rotate(-90 14.2 645)" >OCR (pmol/min/200K cells)</text>
<polyline points="50.1,627.3 62.8,638.5 75.6,645.6 88.4,648.1 101.1,655.2 113.9,676 126.7,669.4 139.5,671.4 152.2,670.4 165,666.9 177.8,619.7 190.6,628.8 203.3,638.5 216.1,638 228.9,643.6 241.6,684.1 254.4,686.1 267.2,685.6 280,681.3 292.7,671.9" fill="none" stroke="#8a8a8a" stroke-width="0.9" stroke-linejoin="round" />
<line x1="50.1" y1="625.3" x2="50.1" y2="629.4" stroke="#7a7a7a" stroke-width="0.9" />
<line x1="47.6" y1="625.3" x2="52.6" y2="625.3" stroke="#7a7a7a" stroke-width="0.9" />
<line x1="47.6" y1="629.4" x2="52.6" y2="629.4" stroke="#7a7a7a" stroke-width="0.9" />
<line x1="62.8" y1="633.4" x2="62.8" y2="643.6" stroke="#7a7a7a" stroke-width="0.9" />
<line x1="60.3" y1="633.4" x2="65.3" y2="633.4" stroke="#7a7a7a" stroke-width="0.9" />
<line x1="60.3" y1="643.6" x2="65.3" y2="643.6" stroke="#7a7a7a" stroke-width="0.9" />
<line x1="75.6" y1="640.5" x2="75.6" y2="650.7" stroke="#7a7a7a" stroke-width="0.9" />
<line x1="73.1" y1="640.5" x2="78.1" y2="640.5" stroke="#7a7a7a" stroke-width="0.9" />
<line x1="73.1" y1="650.7" x2="78.1" y2="650.7" stroke="#7a7a7a" stroke-width="0.9" />
<line x1="88.4" y1="643" x2="88.4" y2="653.2" stroke="#7a7a7a" stroke-width="0.9" />
<line x1="85.9" y1="643" x2="90.9" y2="643" stroke="#7a7a7a" stroke-width="0.9" />
<line x1="85.9" y1="653.2" x2="90.9" y2="653.2" stroke="#7a7a7a" stroke-width="0.9" />
<line x1="101.1" y1="649.6" x2="101.1" y2="660.8" stroke="#7a7a7a" stroke-width="0.9" />
<line x1="98.6" y1="649.6" x2="103.6" y2="649.6" stroke="#7a7a7a" stroke-width="0.9" />
<line x1="98.6" y1="660.8" x2="103.6" y2="660.8" stroke="#7a7a7a" stroke-width="0.9" />
<line x1="113.9" y1="673.5" x2="113.9" y2="678.5" stroke="#7a7a7a" stroke-width="0.9" />
<line x1="111.4" y1="673.5" x2="116.4" y2="673.5" stroke="#7a7a7a" stroke-width="0.9" />
<line x1="111.4" y1="678.5" x2="116.4" y2="678.5" stroke="#7a7a7a" stroke-width="0.9" />
<line x1="126.7" y1="666.4" x2="126.7" y2="672.5" stroke="#7a7a7a" stroke-width="0.9" />
<line x1="124.2" y1="666.4" x2="129.2" y2="666.4" stroke="#7a7a7a" stroke-width="0.9" />
<line x1="124.2" y1="672.5" x2="129.2" y2="672.5" stroke="#7a7a7a" stroke-width="0.9" />
<line x1="139.5" y1="668.9" x2="139.5" y2="674" stroke="#7a7a7a" stroke-width="0.9" />
<line x1="137" y1="668.9" x2="142" y2="668.9" stroke="#7a7a7a" stroke-width="0.9" />
<line x1="137" y1="674" x2="142" y2="674" stroke="#7a7a7a" stroke-width="0.9" />
<line x1="152.2" y1="666.4" x2="152.2" y2="674.5" stroke="#7a7a7a" stroke-width="0.9" />
<line x1="149.7" y1="666.4" x2="154.7" y2="666.4" stroke="#7a7a7a" stroke-width="0.9" />
<line x1="149.7" y1="674.5" x2="154.7" y2="674.5" stroke="#7a7a7a" stroke-width="0.9" />
<line x1="165" y1="661.3" x2="165" y2="672.5" stroke="#7a7a7a" stroke-width="0.9" />
<line x1="162.5" y1="661.3" x2="167.5" y2="661.3" stroke="#7a7a7a" stroke-width="0.9" />
<line x1="162.5" y1="672.5" x2="167.5" y2="672.5" stroke="#7a7a7a" stroke-width="0.9" />
<line x1="177.8" y1="611.1" x2="177.8" y2="628.3" stroke="#7a7a7a" stroke-width="0.9" />
<line x1="175.3" y1="611.1" x2="180.3" y2="611.1" stroke="#7a7a7a" stroke-width="0.9" />
<line x1="175.3" y1="628.3" x2="180.3" y2="628.3" stroke="#7a7a7a" stroke-width="0.9" />
<line x1="190.6" y1="622.3" x2="190.6" y2="635.4" stroke="#7a7a7a" stroke-width="0.9" />
<line x1="188.1" y1="622.3" x2="193.1" y2="622.3" stroke="#7a7a7a" stroke-width="0.9" />
<line x1="188.1" y1="635.4" x2="193.1" y2="635.4" stroke="#7a7a7a" stroke-width="0.9" />
<line x1="203.3" y1="631.9" x2="203.3" y2="645.1" stroke="#7a7a7a" stroke-width="0.9" />
<line x1="200.8" y1="631.9" x2="205.8" y2="631.9" stroke="#7a7a7a" stroke-width="0.9" />
<line x1="200.8" y1="645.1" x2="205.8" y2="645.1" stroke="#7a7a7a" stroke-width="0.9" />
<line x1="216.1" y1="631.4" x2="216.1" y2="644.6" stroke="#7a7a7a" stroke-width="0.9" />
<line x1="213.6" y1="631.4" x2="218.6" y2="631.4" stroke="#7a7a7a" stroke-width="0.9" />
<line x1="213.6" y1="644.6" x2="218.6" y2="644.6" stroke="#7a7a7a" stroke-width="0.9" />
<line x1="228.9" y1="636.5" x2="228.9" y2="650.7" stroke="#7a7a7a" stroke-width="0.9" />
<line x1="226.4" y1="636.5" x2="231.4" y2="636.5" stroke="#7a7a7a" stroke-width="0.9" />
<line x1="226.4" y1="650.7" x2="231.4" y2="650.7" stroke="#7a7a7a" stroke-width="0.9" />
<line x1="241.6" y1="679" x2="241.6" y2="689.2" stroke="#7a7a7a" stroke-width="0.9" />
<line x1="239.1" y1="679" x2="244.1" y2="679" stroke="#7a7a7a" stroke-width="0.9" />
<line x1="239.1" y1="689.2" x2="244.1" y2="689.2" stroke="#7a7a7a" stroke-width="0.9" />
<line x1="254.4" y1="678" x2="254.4" y2="694.3" stroke="#7a7a7a" stroke-width="0.9" />
<line x1="251.9" y1="678" x2="256.9" y2="678" stroke="#7a7a7a" stroke-width="0.9" />
<line x1="251.9" y1="694.3" x2="256.9" y2="694.3" stroke="#7a7a7a" stroke-width="0.9" />
<line x1="267.2" y1="678.5" x2="267.2" y2="692.7" stroke="#7a7a7a" stroke-width="0.9" />
<line x1="264.7" y1="678.5" x2="269.7" y2="678.5" stroke="#7a7a7a" stroke-width="0.9" />
<line x1="264.7" y1="692.7" x2="269.7" y2="692.7" stroke="#7a7a7a" stroke-width="0.9" />
<line x1="280" y1="676.3" x2="280" y2="686.4" stroke="#7a7a7a" stroke-width="0.9" />
<line x1="277.5" y1="676.3" x2="282.5" y2="676.3" stroke="#7a7a7a" stroke-width="0.9" />
<line x1="277.5" y1="686.4" x2="282.5" y2="686.4" stroke="#7a7a7a" stroke-width="0.9" />
<line x1="292.7" y1="669.4" x2="292.7" y2="674.5" stroke="#7a7a7a" stroke-width="0.9" />
<line x1="290.2" y1="669.4" x2="295.2" y2="669.4" stroke="#7a7a7a" stroke-width="0.9" />
<line x1="290.2" y1="674.5" x2="295.2" y2="674.5" stroke="#7a7a7a" stroke-width="0.9" />
<circle cx="50.1" cy="627.3" r="2.9" fill="#585858"/>
<circle cx="62.8" cy="638.5" r="2.9" fill="#585858"/>
<circle cx="75.6" cy="645.6" r="2.9" fill="#585858"/>
<circle cx="88.4" cy="648.1" r="2.9" fill="#585858"/>
<circle cx="101.1" cy="655.2" r="2.9" fill="#585858"/>
<circle cx="113.9" cy="676" r="2.9" fill="#585858"/>
<circle cx="126.7" cy="669.4" r="2.9" fill="#585858"/>
<circle cx="139.5" cy="671.4" r="2.9" fill="#585858"/>
<circle cx="152.2" cy="670.4" r="2.9" fill="#585858"/>
<circle cx="165" cy="666.9" r="2.9" fill="#585858"/>
<circle cx="177.8" cy="619.7" r="2.9" fill="#585858"/>
<circle cx="190.6" cy="628.8" r="2.9" fill="#585858"/>
<circle cx="203.3" cy="638.5" r="2.9" fill="#585858"/>
<circle cx="216.1" cy="638" r="2.9" fill="#585858"/>
<circle cx="228.9" cy="643.6" r="2.9" fill="#585858"/>
<circle cx="241.6" cy="684.1" r="2.9" fill="#585858"/>
<circle cx="254.4" cy="686.1" r="2.9" fill="#585858"/>
<circle cx="267.2" cy="685.6" r="2.9" fill="#585858"/>
<circle cx="280" cy="681.3" r="2.9" fill="#585858"/>
<circle cx="292.7" cy="671.9" r="2.9" fill="#585858"/>
<polyline points="50.1,595.4 62.8,635.4 75.6,645.6 88.4,655.7 101.1,662.3 113.9,703.9 126.7,703.9 139.5,707.4 152.2,706.2 165,709 177.8,663.8 190.6,659.8 203.3,655.2 216.1,654.7 228.9,653.9 241.6,715.3 254.4,720.6 267.2,718.8 280,721.1 292.7,721.4" fill="none" stroke="#8ab6f0" stroke-width="0.9" stroke-linejoin="round" />
<line x1="50.1" y1="588.8" x2="50.1" y2="602" stroke="#8ab6f0" stroke-width="0.9" />
<line x1="47.6" y1="588.8" x2="52.6" y2="588.8" stroke="#8ab6f0" stroke-width="0.9" />
<line x1="47.6" y1="602" x2="52.6" y2="602" stroke="#8ab6f0" stroke-width="0.9" />
<line x1="62.8" y1="628.8" x2="62.8" y2="642" stroke="#8ab6f0" stroke-width="0.9" />
<line x1="60.3" y1="628.8" x2="65.3" y2="628.8" stroke="#8ab6f0" stroke-width="0.9" />
<line x1="60.3" y1="642" x2="65.3" y2="642" stroke="#8ab6f0" stroke-width="0.9" />
<line x1="75.6" y1="638.5" x2="75.6" y2="652.7" stroke="#8ab6f0" stroke-width="0.9" />
<line x1="73.1" y1="638.5" x2="78.1" y2="638.5" stroke="#8ab6f0" stroke-width="0.9" />
<line x1="73.1" y1="652.7" x2="78.1" y2="652.7" stroke="#8ab6f0" stroke-width="0.9" />
<line x1="88.4" y1="649.1" x2="88.4" y2="662.3" stroke="#8ab6f0" stroke-width="0.9" />
<line x1="85.9" y1="649.1" x2="90.9" y2="649.1" stroke="#8ab6f0" stroke-width="0.9" />
<line x1="85.9" y1="662.3" x2="90.9" y2="662.3" stroke="#8ab6f0" stroke-width="0.9" />
<line x1="101.1" y1="655.7" x2="101.1" y2="668.9" stroke="#8ab6f0" stroke-width="0.9" />
<line x1="98.6" y1="655.7" x2="103.6" y2="655.7" stroke="#8ab6f0" stroke-width="0.9" />
<line x1="98.6" y1="668.9" x2="103.6" y2="668.9" stroke="#8ab6f0" stroke-width="0.9" />
<line x1="113.9" y1="700.8" x2="113.9" y2="706.9" stroke="#8ab6f0" stroke-width="0.9" />
<line x1="111.4" y1="700.8" x2="116.4" y2="700.8" stroke="#8ab6f0" stroke-width="0.9" />
<line x1="111.4" y1="706.9" x2="116.4" y2="706.9" stroke="#8ab6f0" stroke-width="0.9" />
<line x1="126.7" y1="699.8" x2="126.7" y2="707.9" stroke="#8ab6f0" stroke-width="0.9" />
<line x1="124.2" y1="699.8" x2="129.2" y2="699.8" stroke="#8ab6f0" stroke-width="0.9" />
<line x1="124.2" y1="707.9" x2="129.2" y2="707.9" stroke="#8ab6f0" stroke-width="0.9" />
<line x1="139.5" y1="704.4" x2="139.5" y2="710.5" stroke="#8ab6f0" stroke-width="0.9" />
<line x1="137" y1="704.4" x2="142" y2="704.4" stroke="#8ab6f0" stroke-width="0.9" />
<line x1="137" y1="710.5" x2="142" y2="710.5" stroke="#8ab6f0" stroke-width="0.9" />
<line x1="152.2" y1="702.6" x2="152.2" y2="709.7" stroke="#8ab6f0" stroke-width="0.9" />
<line x1="149.7" y1="702.6" x2="154.7" y2="702.6" stroke="#8ab6f0" stroke-width="0.9" />
<line x1="149.7" y1="709.7" x2="154.7" y2="709.7" stroke="#8ab6f0" stroke-width="0.9" />
<line x1="165" y1="704.9" x2="165" y2="713" stroke="#8ab6f0" stroke-width="0.9" />
<line x1="162.5" y1="704.9" x2="167.5" y2="704.9" stroke="#8ab6f0" stroke-width="0.9" />
<line x1="162.5" y1="713" x2="167.5" y2="713" stroke="#8ab6f0" stroke-width="0.9" />
<line x1="177.8" y1="657.7" x2="177.8" y2="669.9" stroke="#8ab6f0" stroke-width="0.9" />
<line x1="175.3" y1="657.7" x2="180.3" y2="657.7" stroke="#8ab6f0" stroke-width="0.9" />
<line x1="175.3" y1="669.9" x2="180.3" y2="669.9" stroke="#8ab6f0" stroke-width="0.9" />
<line x1="190.6" y1="652.2" x2="190.6" y2="667.4" stroke="#8ab6f0" stroke-width="0.9" />
<line x1="188.1" y1="652.2" x2="193.1" y2="652.2" stroke="#8ab6f0" stroke-width="0.9" />
<line x1="188.1" y1="667.4" x2="193.1" y2="667.4" stroke="#8ab6f0" stroke-width="0.9" />
<line x1="203.3" y1="646.1" x2="203.3" y2="664.3" stroke="#8ab6f0" stroke-width="0.9" />
<line x1="200.8" y1="646.1" x2="205.8" y2="646.1" stroke="#8ab6f0" stroke-width="0.9" />
<line x1="200.8" y1="664.3" x2="205.8" y2="664.3" stroke="#8ab6f0" stroke-width="0.9" />
<line x1="216.1" y1="645.6" x2="216.1" y2="663.8" stroke="#8ab6f0" stroke-width="0.9" />
<line x1="213.6" y1="645.6" x2="218.6" y2="645.6" stroke="#8ab6f0" stroke-width="0.9" />
<line x1="213.6" y1="663.8" x2="218.6" y2="663.8" stroke="#8ab6f0" stroke-width="0.9" />
<line x1="228.9" y1="644.8" x2="228.9" y2="663.1" stroke="#8ab6f0" stroke-width="0.9" />
<line x1="226.4" y1="644.8" x2="231.4" y2="644.8" stroke="#8ab6f0" stroke-width="0.9" />
<line x1="226.4" y1="663.1" x2="231.4" y2="663.1" stroke="#8ab6f0" stroke-width="0.9" />
<line x1="241.6" y1="712.8" x2="241.6" y2="717.8" stroke="#8ab6f0" stroke-width="0.9" />
<line x1="239.1" y1="712.8" x2="244.1" y2="712.8" stroke="#8ab6f0" stroke-width="0.9" />
<line x1="239.1" y1="717.8" x2="244.1" y2="717.8" stroke="#8ab6f0" stroke-width="0.9" />
<line x1="254.4" y1="718.1" x2="254.4" y2="723.2" stroke="#8ab6f0" stroke-width="0.9" />
<line x1="251.9" y1="718.1" x2="256.9" y2="718.1" stroke="#8ab6f0" stroke-width="0.9" />
<line x1="251.9" y1="723.2" x2="256.9" y2="723.2" stroke="#8ab6f0" stroke-width="0.9" />
<line x1="267.2" y1="716.3" x2="267.2" y2="721.4" stroke="#8ab6f0" stroke-width="0.9" />
<line x1="264.7" y1="716.3" x2="269.7" y2="716.3" stroke="#8ab6f0" stroke-width="0.9" />
<line x1="264.7" y1="721.4" x2="269.7" y2="721.4" stroke="#8ab6f0" stroke-width="0.9" />
<line x1="280" y1="718.6" x2="280" y2="723.7" stroke="#8ab6f0" stroke-width="0.9" />
<line x1="277.5" y1="718.6" x2="282.5" y2="718.6" stroke="#8ab6f0" stroke-width="0.9" />
<line x1="277.5" y1="723.7" x2="282.5" y2="723.7" stroke="#8ab6f0" stroke-width="0.9" />
<line x1="292.7" y1="718.8" x2="292.7" y2="723.9" stroke="#8ab6f0" stroke-width="0.9" />
<line x1="290.2" y1="718.8" x2="295.2" y2="718.8" stroke="#8ab6f0" stroke-width="0.9" />
<line x1="290.2" y1="723.9" x2="295.2" y2="723.9" stroke="#8ab6f0" stroke-width="0.9" />
<circle cx="50.1" cy="595.4" r="2.9" fill="#1f74e0"/>
<circle cx="62.8" cy="635.4" r="2.9" fill="#1f74e0"/>
<circle cx="75.6" cy="645.6" r="2.9" fill="#1f74e0"/>
<circle cx="88.4" cy="655.7" r="2.9" fill="#1f74e0"/>
<circle cx="101.1" cy="662.3" r="2.9" fill="#1f74e0"/>
<circle cx="113.9" cy="703.9" r="2.9" fill="#1f74e0"/>
<circle cx="126.7" cy="703.9" r="2.9" fill="#1f74e0"/>
<circle cx="139.5" cy="707.4" r="2.9" fill="#1f74e0"/>
<circle cx="152.2" cy="706.2" r="2.9" fill="#1f74e0"/>
<circle cx="165" cy="709" r="2.9" fill="#1f74e0"/>
<circle cx="177.8" cy="663.8" r="2.9" fill="#1f74e0"/>
<circle cx="190.6" cy="659.8" r="2.9" fill="#1f74e0"/>
<circle cx="203.3" cy="655.2" r="2.9" fill="#1f74e0"/>
<circle cx="216.1" cy="654.7" r="2.9" fill="#1f74e0"/>
<circle cx="228.9" cy="653.9" r="2.9" fill="#1f74e0"/>
<circle cx="241.6" cy="715.3" r="2.9" fill="#1f74e0"/>
<circle cx="254.4" cy="720.6" r="2.9" fill="#1f74e0"/>
<circle cx="267.2" cy="718.8" r="2.9" fill="#1f74e0"/>
<circle cx="280" cy="721.1" r="2.9" fill="#1f74e0"/>
<circle cx="292.7" cy="721.4" r="2.9" fill="#1f74e0"/>
<polyline points="50.1,571.1 62.8,605 75.6,617.2 88.4,627.8 101.1,637 113.9,692.7 126.7,695.3 139.5,697.3 152.2,698.3 165,698.3 177.8,646.6 190.6,644.1 203.3,641.5 216.1,639 228.9,638 241.6,717.1 254.4,721.1 267.2,725.2 280,724.2 292.7,729.2" fill="none" stroke="#ff6a6a" stroke-width="0.9" stroke-linejoin="round" />
<line x1="50.1" y1="561.9" x2="50.1" y2="580.2" stroke="#ff7a7a" stroke-width="0.9" />
<line x1="47.6" y1="561.9" x2="52.6" y2="561.9" stroke="#ff7a7a" stroke-width="0.9" />
<line x1="47.6" y1="580.2" x2="52.6" y2="580.2" stroke="#ff7a7a" stroke-width="0.9" />
<line x1="62.8" y1="598.9" x2="62.8" y2="611.1" stroke="#ff7a7a" stroke-width="0.9" />
<line x1="60.3" y1="598.9" x2="65.3" y2="598.9" stroke="#ff7a7a" stroke-width="0.9" />
<line x1="60.3" y1="611.1" x2="65.3" y2="611.1" stroke="#ff7a7a" stroke-width="0.9" />
<line x1="75.6" y1="611.1" x2="75.6" y2="623.3" stroke="#ff7a7a" stroke-width="0.9" />
<line x1="73.1" y1="611.1" x2="78.1" y2="611.1" stroke="#ff7a7a" stroke-width="0.9" />
<line x1="73.1" y1="623.3" x2="78.1" y2="623.3" stroke="#ff7a7a" stroke-width="0.9" />
<line x1="88.4" y1="623.3" x2="88.4" y2="632.4" stroke="#ff7a7a" stroke-width="0.9" />
<line x1="85.9" y1="623.3" x2="90.9" y2="623.3" stroke="#ff7a7a" stroke-width="0.9" />
<line x1="85.9" y1="632.4" x2="90.9" y2="632.4" stroke="#ff7a7a" stroke-width="0.9" />
<line x1="101.1" y1="631.9" x2="101.1" y2="642" stroke="#ff7a7a" stroke-width="0.9" />
<line x1="98.6" y1="631.9" x2="103.6" y2="631.9" stroke="#ff7a7a" stroke-width="0.9" />
<line x1="98.6" y1="642" x2="103.6" y2="642" stroke="#ff7a7a" stroke-width="0.9" />
<line x1="113.9" y1="688.7" x2="113.9" y2="696.8" stroke="#ff7a7a" stroke-width="0.9" />
<line x1="111.4" y1="688.7" x2="116.4" y2="688.7" stroke="#ff7a7a" stroke-width="0.9" />
<line x1="111.4" y1="696.8" x2="116.4" y2="696.8" stroke="#ff7a7a" stroke-width="0.9" />
<line x1="126.7" y1="691.2" x2="126.7" y2="699.3" stroke="#ff7a7a" stroke-width="0.9" />
<line x1="124.2" y1="691.2" x2="129.2" y2="691.2" stroke="#ff7a7a" stroke-width="0.9" />
<line x1="124.2" y1="699.3" x2="129.2" y2="699.3" stroke="#ff7a7a" stroke-width="0.9" />
<line x1="139.5" y1="693.2" x2="139.5" y2="701.4" stroke="#ff7a7a" stroke-width="0.9" />
<line x1="137" y1="693.2" x2="142" y2="693.2" stroke="#ff7a7a" stroke-width="0.9" />
<line x1="137" y1="701.4" x2="142" y2="701.4" stroke="#ff7a7a" stroke-width="0.9" />
<line x1="152.2" y1="694.3" x2="152.2" y2="702.4" stroke="#ff7a7a" stroke-width="0.9" />
<line x1="149.7" y1="694.3" x2="154.7" y2="694.3" stroke="#ff7a7a" stroke-width="0.9" />
<line x1="149.7" y1="702.4" x2="154.7" y2="702.4" stroke="#ff7a7a" stroke-width="0.9" />
<line x1="165" y1="695.8" x2="165" y2="700.8" stroke="#ff7a7a" stroke-width="0.9" />
<line x1="162.5" y1="695.8" x2="167.5" y2="695.8" stroke="#ff7a7a" stroke-width="0.9" />
<line x1="162.5" y1="700.8" x2="167.5" y2="700.8" stroke="#ff7a7a" stroke-width="0.9" />
<line x1="177.8" y1="641.5" x2="177.8" y2="651.7" stroke="#ff7a7a" stroke-width="0.9" />
<line x1="175.3" y1="641.5" x2="180.3" y2="641.5" stroke="#ff7a7a" stroke-width="0.9" />
<line x1="175.3" y1="651.7" x2="180.3" y2="651.7" stroke="#ff7a7a" stroke-width="0.9" />
<line x1="190.6" y1="639" x2="190.6" y2="649.1" stroke="#ff7a7a" stroke-width="0.9" />
<line x1="188.1" y1="639" x2="193.1" y2="639" stroke="#ff7a7a" stroke-width="0.9" />
<line x1="188.1" y1="649.1" x2="193.1" y2="649.1" stroke="#ff7a7a" stroke-width="0.9" />
<line x1="203.3" y1="636.5" x2="203.3" y2="646.6" stroke="#ff7a7a" stroke-width="0.9" />
<line x1="200.8" y1="636.5" x2="205.8" y2="636.5" stroke="#ff7a7a" stroke-width="0.9" />
<line x1="200.8" y1="646.6" x2="205.8" y2="646.6" stroke="#ff7a7a" stroke-width="0.9" />
<line x1="216.1" y1="634.4" x2="216.1" y2="643.6" stroke="#ff7a7a" stroke-width="0.9" />
<line x1="213.6" y1="634.4" x2="218.6" y2="634.4" stroke="#ff7a7a" stroke-width="0.9" />
<line x1="213.6" y1="643.6" x2="218.6" y2="643.6" stroke="#ff7a7a" stroke-width="0.9" />
<line x1="228.9" y1="633.9" x2="228.9" y2="642" stroke="#ff7a7a" stroke-width="0.9" />
<line x1="226.4" y1="633.9" x2="231.4" y2="633.9" stroke="#ff7a7a" stroke-width="0.9" />
<line x1="226.4" y1="642" x2="231.4" y2="642" stroke="#ff7a7a" stroke-width="0.9" />
<line x1="241.6" y1="713" x2="241.6" y2="721.1" stroke="#ff7a7a" stroke-width="0.9" />
<line x1="239.1" y1="713" x2="244.1" y2="713" stroke="#ff7a7a" stroke-width="0.9" />
<line x1="239.1" y1="721.1" x2="244.1" y2="721.1" stroke="#ff7a7a" stroke-width="0.9" />
<line x1="254.4" y1="718.1" x2="254.4" y2="724.2" stroke="#ff7a7a" stroke-width="0.9" />
<line x1="251.9" y1="718.1" x2="256.9" y2="718.1" stroke="#ff7a7a" stroke-width="0.9" />
<line x1="251.9" y1="724.2" x2="256.9" y2="724.2" stroke="#ff7a7a" stroke-width="0.9" />
<line x1="267.2" y1="722.1" x2="267.2" y2="728.2" stroke="#ff7a7a" stroke-width="0.9" />
<line x1="264.7" y1="722.1" x2="269.7" y2="722.1" stroke="#ff7a7a" stroke-width="0.9" />
<line x1="264.7" y1="728.2" x2="269.7" y2="728.2" stroke="#ff7a7a" stroke-width="0.9" />
<line x1="280" y1="721.1" x2="280" y2="727.2" stroke="#ff7a7a" stroke-width="0.9" />
<line x1="277.5" y1="721.1" x2="282.5" y2="721.1" stroke="#ff7a7a" stroke-width="0.9" />
<line x1="277.5" y1="727.2" x2="282.5" y2="727.2" stroke="#ff7a7a" stroke-width="0.9" />
<line x1="292.7" y1="726.2" x2="292.7" y2="732.3" stroke="#ff7a7a" stroke-width="0.9" />
<line x1="290.2" y1="726.2" x2="295.2" y2="726.2" stroke="#ff7a7a" stroke-width="0.9" />
<line x1="290.2" y1="732.3" x2="295.2" y2="732.3" stroke="#ff7a7a" stroke-width="0.9" />
<circle cx="50.1" cy="571.1" r="2.9" fill="#ff0000"/>
<circle cx="62.8" cy="605" r="2.9" fill="#ff0000"/>
<circle cx="75.6" cy="617.2" r="2.9" fill="#ff0000"/>
<circle cx="88.4" cy="627.8" r="2.9" fill="#ff0000"/>
<circle cx="101.1" cy="637" r="2.9" fill="#ff0000"/>
<circle cx="113.9" cy="692.7" r="2.9" fill="#ff0000"/>
<circle cx="126.7" cy="695.3" r="2.9" fill="#ff0000"/>
<circle cx="139.5" cy="697.3" r="2.9" fill="#ff0000"/>
<circle cx="152.2" cy="698.3" r="2.9" fill="#ff0000"/>
<circle cx="165" cy="698.3" r="2.9" fill="#ff0000"/>
<circle cx="177.8" cy="646.6" r="2.9" fill="#ff0000"/>
<circle cx="190.6" cy="644.1" r="2.9" fill="#ff0000"/>
<circle cx="203.3" cy="641.5" r="2.9" fill="#ff0000"/>
<circle cx="216.1" cy="639" r="2.9" fill="#ff0000"/>
<circle cx="228.9" cy="638" r="2.9" fill="#ff0000"/>
<circle cx="241.6" cy="717.1" r="2.9" fill="#ff0000"/>
<circle cx="254.4" cy="721.1" r="2.9" fill="#ff0000"/>
<circle cx="267.2" cy="725.2" r="2.9" fill="#ff0000"/>
<circle cx="280" cy="724.2" r="2.9" fill="#ff0000"/>
<circle cx="292.7" cy="729.2" r="2.9" fill="#ff0000"/>
<text x="105.8" y="600.3" font-size="11.6" font-weight="bold" text-anchor="middle" fill="#000" >Oligo</text>
<line x1="104.2" y1="604.2" x2="104.2" y2="626.1" stroke="#000" stroke-width="0.8" />
<path d="M102.6,625.6 L105.8,625.6 L104.2,629.1 Z" fill="#000"/>
<text x="165.5" y="609.1" font-size="11.6" font-weight="bold" text-anchor="middle" fill="#000" >FCCP</text>
<line x1="165.3" y1="614" x2="165.3" y2="634.9" stroke="#000" stroke-width="0.8" />
<path d="M163.7,634.4 L166.9,634.4 L165.3,637.9 Z" fill="#000"/>
<text x="239" y="606.6" font-size="11.6" font-weight="bold" text-anchor="middle" fill="#000" >Rot/AA</text>
<line x1="235.7" y1="609.4" x2="235.7" y2="632.2" stroke="#000" stroke-width="0.8" />
<path d="M234.1,631.7 L237.3,631.7 L235.7,635.2 Z" fill="#000"/>
<rect x="255.4" y="531.4" width="71.5" height="46.9" fill="#fff" stroke="#777" stroke-width="0.9"/>
<line x1="257.1" y1="540.7" x2="277.5" y2="540.7" stroke="#b5b5b5" stroke-width="1" />
<circle cx="267.3" cy="540.7" r="2.7" fill="#585858"/>
<text x="280.8" y="543.9" font-size="12.5" font-weight="bold" text-anchor="start" fill="#000" >Control</text>
<line x1="257.1" y1="555.9" x2="277.5" y2="555.9" stroke="#a8c8f2" stroke-width="1" />
<circle cx="267.3" cy="555.9" r="2.7" fill="#1f74e0"/>
<text x="280.8" y="559.1" font-size="12.5" font-weight="bold" text-anchor="start" fill="#000" >ICU-S</text>
<line x1="257.1" y1="571.2" x2="277.5" y2="571.2" stroke="#ff8a8a" stroke-width="1" />
<circle cx="267.3" cy="571.2" r="2.7" fill="#ff0000"/>
<text x="280.8" y="574.4" font-size="12.5" font-weight="bold" text-anchor="start" fill="#000" >ICU-NS</text>
<line x1="51.6" y1="829" x2="272.5" y2="829" stroke="#888" stroke-width="1.2" />
<line x1="67.4" y1="829" x2="67.4" y2="832" stroke="#666" stroke-width="1" />
<line x1="83.2" y1="829" x2="83.2" y2="832" stroke="#666" stroke-width="1" />
<line x1="98.9" y1="829" x2="98.9" y2="832" stroke="#666" stroke-width="1" />
<line x1="114.7" y1="829" x2="114.7" y2="832" stroke="#666" stroke-width="1" />
<line x1="130.5" y1="829" x2="130.5" y2="832" stroke="#666" stroke-width="1" />
<line x1="146.2" y1="829" x2="146.2" y2="832" stroke="#666" stroke-width="1" />
<line x1="162" y1="829" x2="162" y2="832" stroke="#666" stroke-width="1" />
<line x1="177.8" y1="829" x2="177.8" y2="832" stroke="#666" stroke-width="1" />
<line x1="193.6" y1="829" x2="193.6" y2="832" stroke="#666" stroke-width="1" />
<line x1="209.3" y1="829" x2="209.3" y2="832" stroke="#666" stroke-width="1" />
<line x1="225.1" y1="829" x2="225.1" y2="832" stroke="#666" stroke-width="1" />
<line x1="240.9" y1="829" x2="240.9" y2="832" stroke="#666" stroke-width="1" />
<line x1="256.7" y1="829" x2="256.7" y2="832" stroke="#666" stroke-width="1" />
<line x1="51.6" y1="1001" x2="272.5" y2="1001" stroke="#444" stroke-width="1.3" />
<line x1="51.6" y1="1001" x2="51.6" y2="1005.5" stroke="#444" stroke-width="1.1" />
<text x="51.6" y="1016.3" font-size="12.6" font-weight="bold" text-anchor="middle" fill="#000" >30</text>
<line x1="67.4" y1="1001" x2="67.4" y2="1003.5" stroke="#444" stroke-width="1" />
<line x1="83.2" y1="1001" x2="83.2" y2="1005.5" stroke="#444" stroke-width="1.1" />
<text x="83.2" y="1016.3" font-size="12.6" font-weight="bold" text-anchor="middle" fill="#000" >40</text>
<line x1="98.9" y1="1001" x2="98.9" y2="1003.5" stroke="#444" stroke-width="1" />
<line x1="114.7" y1="1001" x2="114.7" y2="1005.5" stroke="#444" stroke-width="1.1" />
<text x="114.7" y="1016.3" font-size="12.6" font-weight="bold" text-anchor="middle" fill="#000" >50</text>
<line x1="130.5" y1="1001" x2="130.5" y2="1003.5" stroke="#444" stroke-width="1" />
<line x1="146.2" y1="1001" x2="146.2" y2="1005.5" stroke="#444" stroke-width="1.1" />
<text x="146.2" y="1016.3" font-size="12.6" font-weight="bold" text-anchor="middle" fill="#000" >60</text>
<line x1="162" y1="1001" x2="162" y2="1003.5" stroke="#444" stroke-width="1" />
<line x1="177.8" y1="1001" x2="177.8" y2="1005.5" stroke="#444" stroke-width="1.1" />
<text x="177.8" y="1016.3" font-size="12.6" font-weight="bold" text-anchor="middle" fill="#000" >70</text>
<line x1="193.6" y1="1001" x2="193.6" y2="1003.5" stroke="#444" stroke-width="1" />
<line x1="209.3" y1="1001" x2="209.3" y2="1005.5" stroke="#444" stroke-width="1.1" />
<text x="209.3" y="1016.3" font-size="12.6" font-weight="bold" text-anchor="middle" fill="#000" >80</text>
<line x1="225.1" y1="1001" x2="225.1" y2="1003.5" stroke="#444" stroke-width="1" />
<line x1="240.9" y1="1001" x2="240.9" y2="1005.5" stroke="#444" stroke-width="1.1" />
<text x="240.9" y="1016.3" font-size="12.6" font-weight="bold" text-anchor="middle" fill="#000" >90</text>
<line x1="256.7" y1="1001" x2="256.7" y2="1003.5" stroke="#444" stroke-width="1" />
<line x1="272.4" y1="1001" x2="272.4" y2="1005.5" stroke="#444" stroke-width="1.1" />
<text x="272.4" y="1016.3" font-size="12.6" font-weight="bold" text-anchor="middle" fill="#000" >100</text>
<line x1="51.6" y1="829" x2="51.6" y2="1001" stroke="#9a9a9a" stroke-width="1.4" />
<line x1="47.1" y1="983.2" x2="51.6" y2="983.2" stroke="#444" stroke-width="1.1" />
<text x="45.9" y="987.7" font-size="12.6" font-weight="bold" text-anchor="end" fill="#000" textLength="19.3" lengthAdjust="spacingAndGlyphs">150</text>
<line x1="47.1" y1="948.9" x2="51.6" y2="948.9" stroke="#444" stroke-width="1.1" />
<text x="45.9" y="953.4" font-size="12.6" font-weight="bold" text-anchor="end" fill="#000" textLength="19.3" lengthAdjust="spacingAndGlyphs">160</text>
<line x1="49.1" y1="966" x2="51.6" y2="966" stroke="#444" stroke-width="1" />
<line x1="47.1" y1="914.6" x2="51.6" y2="914.6" stroke="#444" stroke-width="1.1" />
<text x="45.9" y="919.1" font-size="12.6" font-weight="bold" text-anchor="end" fill="#000" textLength="19.3" lengthAdjust="spacingAndGlyphs">170</text>
<line x1="49.1" y1="931.8" x2="51.6" y2="931.8" stroke="#444" stroke-width="1" />
<line x1="47.1" y1="880.3" x2="51.6" y2="880.3" stroke="#444" stroke-width="1.1" />
<text x="45.9" y="884.8" font-size="12.6" font-weight="bold" text-anchor="end" fill="#000" textLength="19.3" lengthAdjust="spacingAndGlyphs">180</text>
<line x1="49.1" y1="897.4" x2="51.6" y2="897.4" stroke="#444" stroke-width="1" />
<line x1="47.1" y1="846" x2="51.6" y2="846" stroke="#444" stroke-width="1.1" />
<text x="45.9" y="850.5" font-size="12.6" font-weight="bold" text-anchor="end" fill="#000" textLength="19.3" lengthAdjust="spacingAndGlyphs">190</text>
<line x1="49.1" y1="863.1" x2="51.6" y2="863.1" stroke="#444" stroke-width="1" />
<line x1="272.5" y1="829" x2="272.5" y2="1001" stroke="#5555ff" stroke-width="1.4" />
<line x1="272.5" y1="840" x2="276.5" y2="840" stroke="#5555ff" stroke-width="1.1" />
<text x="278.5" y="844.5" font-size="12.4" font-weight="bold" text-anchor="start" fill="#1010ff" >20</text>
<line x1="272.5" y1="851.5" x2="274.7" y2="851.5" stroke="#5555ff" stroke-width="1" />
<line x1="272.5" y1="863" x2="276.5" y2="863" stroke="#5555ff" stroke-width="1.1" />
<text x="278.5" y="867.5" font-size="12.4" font-weight="bold" text-anchor="start" fill="#1010ff" >10</text>
<line x1="272.5" y1="874.5" x2="274.7" y2="874.5" stroke="#5555ff" stroke-width="1" />
<line x1="272.5" y1="886" x2="276.5" y2="886" stroke="#5555ff" stroke-width="1.1" />
<text x="278.5" y="890.5" font-size="12.4" font-weight="bold" text-anchor="start" fill="#1010ff" >0</text>
<line x1="272.5" y1="897.5" x2="274.7" y2="897.5" stroke="#5555ff" stroke-width="1" />
<line x1="272.5" y1="909" x2="276.5" y2="909" stroke="#5555ff" stroke-width="1.1" />
<text x="278.5" y="913.5" font-size="12.4" font-weight="bold" text-anchor="start" fill="#1010ff" >−10</text>
<line x1="272.5" y1="920.5" x2="274.7" y2="920.5" stroke="#5555ff" stroke-width="1" />
<line x1="272.5" y1="932" x2="276.5" y2="932" stroke="#5555ff" stroke-width="1.1" />
<text x="278.5" y="936.5" font-size="12.4" font-weight="bold" text-anchor="start" fill="#1010ff" >−20</text>
<line x1="272.5" y1="943.5" x2="274.7" y2="943.5" stroke="#5555ff" stroke-width="1" />
<line x1="272.5" y1="954.9" x2="276.5" y2="954.9" stroke="#5555ff" stroke-width="1.1" />
<text x="278.5" y="959.4" font-size="12.4" font-weight="bold" text-anchor="start" fill="#1010ff" >−30</text>
<line x1="272.5" y1="966.4" x2="274.7" y2="966.4" stroke="#5555ff" stroke-width="1" />
<line x1="272.5" y1="977.9" x2="276.5" y2="977.9" stroke="#5555ff" stroke-width="1.1" />
<text x="278.5" y="982.4" font-size="12.4" font-weight="bold" text-anchor="start" fill="#1010ff" >−40</text>
<line x1="272.5" y1="989.4" x2="274.7" y2="989.4" stroke="#5555ff" stroke-width="1" />
<line x1="272.5" y1="1000.9" x2="276.5" y2="1000.9" stroke="#5555ff" stroke-width="1.1" />
<text x="278.5" y="1005.4" font-size="12.4" font-weight="bold" text-anchor="start" fill="#1010ff" >−50</text>
<text x="127.3" y="821.3" font-size="13.4" font-weight="bold" text-anchor="start" fill="#000" textLength="49.5" lengthAdjust="spacingAndGlyphs">Control</text>
<text x="163.6" y="1035.3" font-size="12.3" font-weight="bold" text-anchor="middle" fill="#000" >Time [min]</text>
<text x="19" y="914.9" font-size="11.2" font-weight="bold" text-anchor="middle" transform="rotate(-90 19 914.9)">[O<tspan font-size="8.5" dy="3">2</tspan><tspan dy="-3">], µM</tspan></text>
<text x="314.3" y="914.7" font-size="11.25" font-weight="bold" fill="#1010ff" text-anchor="middle" transform="rotate(-90 314.5 914.7)">O<tspan font-size="8.5" dy="3">2</tspan><tspan dy="-3"> flux [pmol/(s.mL)]</tspan></text>
<polyline points="51.6,858.5 132.5,904.2 134,905.2 159.4,920.5 160.3,919.8 161,921.3 192.1,930.9 216.6,960.5 216.9,950.3 256.9,990.1 258,988.8 272.3,989.6" fill="none" stroke="#555" stroke-width="1.9" stroke-linejoin="round" />
<path d="M52,873 C52.3,872.6 53.3,869.7 54,870.4 C54.7,871.1 55.3,878.1 56,877.3 C56.7,876.5 57.3,867.3 58,865.8 C58.7,864.6 59.3,868.6 60,868.2 C60.7,867.8 61.3,863.6 62,863.5 C62.7,863.5 63.3,866.7 64,867.9 C64.7,869 65.3,871.3 66,870.4 C66.7,869.5 67.3,862.6 68,862.4 C68.7,862.2 69.3,867.3 70,869 C70.7,870.7 71.3,871.8 72,872.6 C72.7,873.4 73.3,873.8 74,873.8 C74.7,873.9 75.3,871.6 76,872.8 C76.7,874.5 77.3,884.4 78,883.9 C78.7,883.4 79.4,872.7 80,869.7 C80.6,866.7 81.1,866.8 81.7,865.7 C82.2,864.6 82.8,863.4 83.3,863.2 C83.9,863 84.4,864.4 85,864.5 C85.6,864.5 86.1,862.7 86.7,863.7 C87.2,864.6 87.8,868.6 88.3,870.1 C88.9,871.7 89.4,873.6 90,872.9 C90.6,872.3 91.1,866.8 91.7,866.1 C92.2,865.4 92.8,869.5 93.3,868.6 C93.9,867.8 94.4,861.1 95,861 C95.6,860.8 96.1,866.4 96.7,867.7 C97.2,869 97.8,869.1 98.3,868.9 C98.9,868.6 99.5,866.4 100,866.2 C100.5,865.9 101,867.6 101.5,867.5 C102,867.4 102.4,866 103,865.5 C103.6,865 104.3,863.6 105,864.6 C105.7,865.5 106.4,871.1 107,871.1 C107.6,871.1 108,865.3 108.5,864.6 C109,863.8 109.4,865.9 110,866.7 C110.6,867.5 111.3,867.8 112,869.2 C112.7,870.6 113.4,875.3 114,875.1 C114.6,875 115,869.4 115.5,868.4 C116,867.4 116.5,867.8 117,869.1 C117.5,870.3 118,873.9 118.5,876 C119,878 119.3,882.5 120,881.3 C120.7,879 121.7,863.1 122.5,862.2 C123.3,861.2 124.3,873.6 125,875.5 C125.7,876.7 126,874.7 126.5,873.6 C127,872.5 127.5,869.5 128,869 C128.5,868.4 129,869.7 129.5,870.4 C130,871.1 130.5,869.2 131,873.2 C131.5,878.9 132,899.5 132.4,905 C132.8,907.2 132.8,907.2 133.2,906 C133.5,901.8 134.1,887.6 134.5,880 C134.9,872.4 135.2,863.3 135.8,860.3 C136.4,859.1 137.3,860.8 138,861.7 C138.7,862.6 139.3,864.5 140,865.6 C140.7,866.6 141.4,867.7 142,868 C142.6,868.2 143,867.6 143.5,867.1 C144,866.6 144.5,865.4 145,865.1 C145.5,864.7 146,864.9 146.5,865 C147,865.2 147.4,865.2 148,865.8 C148.6,866.5 149.3,868.3 150,868.9 C150.7,869.6 151.3,869.6 152,869.7 C152.7,869.8 153.3,869.9 154,869.5 C154.7,869.1 155.4,867.3 156,867.2 C156.6,867 156.9,868.3 157.3,868.5 C157.8,868.6 158.3,867 158.7,868.2 C159.1,870.1 159.4,875.4 160,880 C160.6,884.6 161.5,894 162.1,895.5 C162.7,896.7 163,891.8 163.5,888.8 C164,885.8 164.5,879.7 165,877.6 C165.5,875.6 166.1,876.8 166.7,876.3 C167.2,875.9 167.8,874.7 168.3,875.2 C168.9,875.7 169.4,878.5 170,879.3 C170.6,880.1 171.1,879.9 171.7,880 C172.2,880.1 172.8,880.5 173.3,879.9 C173.9,879.3 174.4,876.7 175,876.6 C175.6,876.4 176.1,879.3 176.7,879 C177.2,878.7 177.8,874.8 178.3,874.7 C178.9,874.6 179.4,877.9 180,878.4 C180.6,878.9 181.1,877.6 181.7,877.6 C182.2,877.7 182.8,878.7 183.3,878.9 C183.9,879.1 184.4,879 185,878.7 C185.6,878.4 186.1,877.1 186.7,877.2 C187.2,877.3 187.8,878.9 188.3,879.2 C188.9,879.6 189.5,879.2 190,879.3 C190.5,879.4 190.9,881.2 191.5,880 C192.1,874.8 192.8,853.2 193.5,848 C194.2,846.8 195.2,848.3 196,848.7 C196.8,849 197.3,849.6 198,850.2 C198.7,850.8 199.4,852 200,852.2 C200.6,852.5 201.1,852 201.7,851.6 C202.2,851.2 202.8,850.2 203.3,849.9 C203.9,849.6 204.4,849.3 205,849.7 C205.6,850.2 206.1,852.8 206.7,852.8 C207.2,852.7 207.8,850 208.3,849.5 C208.9,849 209.4,849 210,849.5 C210.6,850 211.1,852 211.7,852.2 C212.2,852.4 212.8,850.5 213.3,850.7 C213.9,850.9 214.5,853.2 215,853.6 C215.5,853.9 215.9,851.8 216.3,853 C216.7,860.7 216.8,878.8 217.2,900 C217.6,921.2 218.2,975 218.6,980 C219,981.2 219.3,951.8 219.6,930 C219.9,908.2 220.1,862.2 220.4,849 C220.8,847.8 221.3,849.8 221.7,851 C222.1,852.2 222.5,855.7 223,856.2 C223.5,856.7 224.1,853.9 224.7,854 C225.2,854.2 225.8,856.8 226.3,857.3 C226.9,857.9 227.4,857.3 228,857.3 C228.6,857.3 229.2,857.8 229.8,857.5 C230.3,857.1 230.9,855.4 231.5,855 C232.1,854.6 232.7,855.1 233.2,855 C233.8,854.9 234.4,854.5 235,854.6 C235.6,854.6 236.1,854.7 236.7,855.1 C237.2,855.6 237.8,857.2 238.3,857.1 C238.9,856.9 239.4,854.6 240,854.3 C240.6,854 241.1,854.9 241.7,855.3 C242.2,855.7 242.8,856.9 243.3,856.9 C243.9,857 244.4,855.8 245,855.7 C245.6,855.6 246.1,856.3 246.7,856.3 C247.2,856.4 247.8,855.7 248.3,855.9 C248.9,856.2 249.4,857.7 250,857.7 C250.6,857.7 251.1,855.8 251.7,856 C252.2,856.3 252.8,858.8 253.3,859.2 C253.9,859.6 254.4,858.8 255,858.3 C255.6,857.7 256.6,854.8 257.2,856 C257.8,859.6 258,871.7 258.5,880 C259,888.3 259.7,903.3 260.2,905.8 C260.7,907 261,898.1 261.5,895 C262,891.9 262.5,888.7 263,887.4 C263.5,886.1 264,887.2 264.5,887.1 C265,887.1 265.4,886.8 266,887 C266.6,887.2 267.3,888.2 268,888.4 C268.7,888.6 269.3,888.7 270,888.2 C270.7,887.6 271.9,885.5 272.3,885" fill="none" stroke="#1010ff" stroke-width="1.3" stroke-linejoin="round"/>
<text x="68" y="896.7" font-size="8.8" font-weight="bold" text-anchor="middle" fill="#111" >Sap PM</text>
<text x="93.8" y="898.8" font-size="8.8" font-weight="bold" text-anchor="middle" fill="#111" >D</text>
<text x="125.5" y="892.7" font-size="8.8" font-weight="bold" text-anchor="middle" fill="#111" >G</text>
<text x="128.1" y="855.9" font-size="8.8" font-weight="bold" text-anchor="middle" fill="#111" >S</text>
<text x="157.9" y="854.2" font-size="8.8" font-weight="bold" text-anchor="middle" fill="#111" >O</text>
<text x="194.5" y="840.1" font-size="8.8" font-weight="bold" text-anchor="middle" fill="#111" >F</text>
<text x="226.6" y="845.4" font-size="8.8" font-weight="bold" text-anchor="middle" fill="#111" >R</text>
<text x="259.4" y="842.8" font-size="8.8" font-weight="bold" text-anchor="middle" fill="#111" >AA</text>
<line x1="60" y1="887" x2="56.9" y2="884.2" stroke="#222" stroke-width="0.7" />
<path d="M55,882.5 L57.7,883.3 L56.1,885.1 Z" fill="#222"/>
<line x1="79" y1="887" x2="75.9" y2="884.2" stroke="#222" stroke-width="0.7" />
<path d="M74,882.5 L76.7,883.3 L75.1,885.1 Z" fill="#222"/>
<line x1="92" y1="889" x2="89.3" y2="886.3" stroke="#222" stroke-width="0.7" />
<path d="M87.5,884.5 L90.2,885.5 L88.5,887.2 Z" fill="#222"/>
<line x1="120" y1="887" x2="117.3" y2="884.3" stroke="#222" stroke-width="0.7" />
<path d="M115.5,882.5 L118.2,883.5 L116.5,885.2 Z" fill="#222"/>
<line x1="129" y1="858.5" x2="131.2" y2="862.3" stroke="#222" stroke-width="0.7" />
<path d="M132.5,864.5 L130.2,862.9 L132.2,861.6 Z" fill="#222"/>
<line x1="159" y1="857" x2="160.8" y2="860.7" stroke="#222" stroke-width="0.7" />
<path d="M162,863 L159.8,861.2 L161.9,860.1 Z" fill="#222"/>
<line x1="191.5" y1="843" x2="193.3" y2="846.2" stroke="#222" stroke-width="0.7" />
<path d="M194.5,848.5 L192.2,846.8 L194.3,845.6 Z" fill="#222"/>
<line x1="228" y1="848" x2="229.8" y2="851.7" stroke="#222" stroke-width="0.7" />
<path d="M231,854 L228.8,852.2 L230.9,851.1 Z" fill="#222"/>
<line x1="257" y1="845.5" x2="258.8" y2="849.2" stroke="#222" stroke-width="0.7" />
<path d="M260,851.5 L257.8,849.7 L259.9,848.6 Z" fill="#222"/>
<line x1="395.1" y1="831" x2="618.1" y2="831" stroke="#888" stroke-width="1.2" />
<line x1="405.8" y1="831" x2="405.8" y2="834" stroke="#666" stroke-width="1" />
<line x1="423.4" y1="831" x2="423.4" y2="834" stroke="#666" stroke-width="1" />
<line x1="440.9" y1="831" x2="440.9" y2="834" stroke="#666" stroke-width="1" />
<line x1="458.4" y1="831" x2="458.4" y2="834" stroke="#666" stroke-width="1" />
<line x1="476" y1="831" x2="476" y2="834" stroke="#666" stroke-width="1" />
<line x1="493.5" y1="831" x2="493.5" y2="834" stroke="#666" stroke-width="1" />
<line x1="511" y1="831" x2="511" y2="834" stroke="#666" stroke-width="1" />
<line x1="528.6" y1="831" x2="528.6" y2="834" stroke="#666" stroke-width="1" />
<line x1="546.1" y1="831" x2="546.1" y2="834" stroke="#666" stroke-width="1" />
<line x1="563.6" y1="831" x2="563.6" y2="834" stroke="#666" stroke-width="1" />
<line x1="581.2" y1="831" x2="581.2" y2="834" stroke="#666" stroke-width="1" />
<line x1="598.7" y1="831" x2="598.7" y2="834" stroke="#666" stroke-width="1" />
<line x1="616.2" y1="831" x2="616.2" y2="834" stroke="#666" stroke-width="1" />
<line x1="395.1" y1="1004" x2="618.1" y2="1004" stroke="#444" stroke-width="1.3" />
<line x1="405.8" y1="1004" x2="405.8" y2="1006.5" stroke="#444" stroke-width="1" />
<line x1="423.4" y1="1004" x2="423.4" y2="1008.5" stroke="#444" stroke-width="1.1" />
<text x="423.4" y="1019.3" font-size="12.6" font-weight="bold" text-anchor="middle" fill="#000" >40</text>
<line x1="440.9" y1="1004" x2="440.9" y2="1006.5" stroke="#444" stroke-width="1" />
<line x1="458.4" y1="1004" x2="458.4" y2="1008.5" stroke="#444" stroke-width="1.1" />
<text x="458.4" y="1019.3" font-size="12.6" font-weight="bold" text-anchor="middle" fill="#000" >50</text>
<line x1="476" y1="1004" x2="476" y2="1006.5" stroke="#444" stroke-width="1" />
<line x1="493.5" y1="1004" x2="493.5" y2="1008.5" stroke="#444" stroke-width="1.1" />
<text x="493.5" y="1019.3" font-size="12.6" font-weight="bold" text-anchor="middle" fill="#000" >60</text>
<line x1="511" y1="1004" x2="511" y2="1006.5" stroke="#444" stroke-width="1" />
<line x1="528.6" y1="1004" x2="528.6" y2="1008.5" stroke="#444" stroke-width="1.1" />
<text x="528.6" y="1019.3" font-size="12.6" font-weight="bold" text-anchor="middle" fill="#000" >70</text>
<line x1="546.1" y1="1004" x2="546.1" y2="1006.5" stroke="#444" stroke-width="1" />
<line x1="563.6" y1="1004" x2="563.6" y2="1008.5" stroke="#444" stroke-width="1.1" />
<text x="563.6" y="1019.3" font-size="12.6" font-weight="bold" text-anchor="middle" fill="#000" >80</text>
<line x1="581.2" y1="1004" x2="581.2" y2="1006.5" stroke="#444" stroke-width="1" />
<line x1="598.7" y1="1004" x2="598.7" y2="1008.5" stroke="#444" stroke-width="1.1" />
<text x="598.7" y="1019.3" font-size="12.6" font-weight="bold" text-anchor="middle" fill="#000" >90</text>
<line x1="616.2" y1="1004" x2="616.2" y2="1006.5" stroke="#444" stroke-width="1" />
<line x1="395.1" y1="831" x2="395.1" y2="1004" stroke="#747474" stroke-width="1.4" />
<line x1="390.6" y1="986.8" x2="395.1" y2="986.8" stroke="#444" stroke-width="1.1" />
<text x="389.3" y="991.3" font-size="12.6" font-weight="bold" text-anchor="end" fill="#000" textLength="19.4" lengthAdjust="spacingAndGlyphs">150</text>
<line x1="390.6" y1="952.2" x2="395.1" y2="952.2" stroke="#444" stroke-width="1.1" />
<text x="389.3" y="956.7" font-size="12.6" font-weight="bold" text-anchor="end" fill="#000" textLength="19.4" lengthAdjust="spacingAndGlyphs">160</text>
<line x1="392.6" y1="969.5" x2="395.1" y2="969.5" stroke="#444" stroke-width="1" />
<line x1="390.6" y1="917.6" x2="395.1" y2="917.6" stroke="#444" stroke-width="1.1" />
<text x="389.3" y="922.1" font-size="12.6" font-weight="bold" text-anchor="end" fill="#000" textLength="19.4" lengthAdjust="spacingAndGlyphs">170</text>
<line x1="392.6" y1="934.9" x2="395.1" y2="934.9" stroke="#444" stroke-width="1" />
<line x1="390.6" y1="883" x2="395.1" y2="883" stroke="#444" stroke-width="1.1" />
<text x="389.3" y="887.5" font-size="12.6" font-weight="bold" text-anchor="end" fill="#000" textLength="19.4" lengthAdjust="spacingAndGlyphs">180</text>
<line x1="392.6" y1="900.3" x2="395.1" y2="900.3" stroke="#444" stroke-width="1" />
<line x1="390.6" y1="848.4" x2="395.1" y2="848.4" stroke="#444" stroke-width="1.1" />
<text x="389.3" y="852.9" font-size="12.6" font-weight="bold" text-anchor="end" fill="#000" textLength="19.4" lengthAdjust="spacingAndGlyphs">190</text>
<line x1="392.6" y1="865.7" x2="395.1" y2="865.7" stroke="#444" stroke-width="1" />
<line x1="618.1" y1="831" x2="618.1" y2="1004" stroke="#5555ff" stroke-width="1.4" />
<line x1="618.1" y1="842.4" x2="622.1" y2="842.4" stroke="#5555ff" stroke-width="1.1" />
<text x="624.1" y="846.9" font-size="12.4" font-weight="bold" text-anchor="start" fill="#1010ff" >20</text>
<line x1="618.1" y1="854" x2="620.3" y2="854" stroke="#5555ff" stroke-width="1" />
<line x1="618.1" y1="865.5" x2="622.1" y2="865.5" stroke="#5555ff" stroke-width="1.1" />
<text x="624.1" y="870" font-size="12.4" font-weight="bold" text-anchor="start" fill="#1010ff" >10</text>
<line x1="618.1" y1="877.1" x2="620.3" y2="877.1" stroke="#5555ff" stroke-width="1" />
<line x1="618.1" y1="888.6" x2="622.1" y2="888.6" stroke="#5555ff" stroke-width="1.1" />
<text x="624.1" y="893.1" font-size="12.4" font-weight="bold" text-anchor="start" fill="#1010ff" >0</text>
<line x1="618.1" y1="900.1" x2="620.3" y2="900.1" stroke="#5555ff" stroke-width="1" />
<line x1="618.1" y1="911.7" x2="622.1" y2="911.7" stroke="#5555ff" stroke-width="1.1" />
<text x="624.1" y="916.2" font-size="12.4" font-weight="bold" text-anchor="start" fill="#1010ff" >−10</text>
<line x1="618.1" y1="923.2" x2="620.3" y2="923.2" stroke="#5555ff" stroke-width="1" />
<line x1="618.1" y1="934.8" x2="622.1" y2="934.8" stroke="#5555ff" stroke-width="1.1" />
<text x="624.1" y="939.3" font-size="12.4" font-weight="bold" text-anchor="start" fill="#1010ff" >−20</text>
<line x1="618.1" y1="946.3" x2="620.3" y2="946.3" stroke="#5555ff" stroke-width="1" />
<line x1="618.1" y1="957.9" x2="622.1" y2="957.9" stroke="#5555ff" stroke-width="1.1" />
<text x="624.1" y="962.4" font-size="12.4" font-weight="bold" text-anchor="start" fill="#1010ff" >−30</text>
<line x1="618.1" y1="969.4" x2="620.3" y2="969.4" stroke="#5555ff" stroke-width="1" />
<line x1="618.1" y1="981" x2="622.1" y2="981" stroke="#5555ff" stroke-width="1.1" />
<text x="624.1" y="985.5" font-size="12.4" font-weight="bold" text-anchor="start" fill="#1010ff" >−40</text>
<line x1="618.1" y1="992.5" x2="620.3" y2="992.5" stroke="#5555ff" stroke-width="1" />
<line x1="618.1" y1="1004.1" x2="622.1" y2="1004.1" stroke="#5555ff" stroke-width="1.1" />
<text x="624.1" y="1008.6" font-size="12.4" font-weight="bold" text-anchor="start" fill="#1010ff" >−50</text>
<text x="449.4" y="821.6" font-size="13.9" font-weight="bold" text-anchor="start" fill="#000" textLength="46.6" lengthAdjust="spacingAndGlyphs">ICU-NS</text>
<text x="506.7" y="1037.8" font-size="12.3" font-weight="bold" text-anchor="middle" fill="#000" >Time [min]</text>
<text x="360.5" y="917.4" font-size="11.4" font-weight="bold" text-anchor="middle" transform="rotate(-90 360.5 917.4)">O<tspan font-size="8.5" dy="3">2</tspan><tspan dy="-3"> , µM</tspan></text>
<text x="656.1" y="916" font-size="11.5" font-weight="bold" fill="#1010ff" text-anchor="middle" transform="rotate(-90 656.1 916)">O<tspan font-size="8.5" dy="3">2</tspan><tspan dy="-3"> flux [pmol/(s*mL)]</tspan></text>
<polyline points="395.3,864.5 419.4,883.8 446.7,899.2 447.5,898.5 448.2,900 464.1,907.9 465,907 465.8,908.5 491.4,924 492,923 492.7,925 516.2,947.9 517,947.2 541.9,959.6 566.4,978.8 567.5,979.8 587.5,991.6 587.8,982.3 600.3,990.9 601,989.5 601.8,991.3 617.9,992.8" fill="none" stroke="#000" stroke-width="1.7" stroke-linejoin="round" />
<path d="M395.3,869.4 C395.5,867.8 396,862.1 396.5,860 C397,857.9 397.7,856.8 398.3,857 C398.9,857.2 399.4,860.3 400,861.3 C400.6,862.2 401.1,862.6 401.7,862.8 C402.2,863 402.8,862.2 403.3,862.4 C403.9,862.6 404.4,863.7 405,864 C405.6,864.4 406.1,864.8 406.7,864.6 C407.2,864.4 407.8,863 408.3,862.9 C408.9,862.8 409.4,863.9 410,863.9 C410.6,864 411.1,863.1 411.7,862.9 C412.2,862.8 412.8,863.4 413.3,863.1 C413.9,862.8 414.5,861.1 415,861 C415.5,861 416.1,862.4 416.6,862.7 C417.1,863.1 417.5,861.5 418.2,863 C418.9,869.7 420,901.8 420.7,903 C421.4,904.2 421.8,875.8 422.5,870 C423.2,866.8 424.3,868.3 425,868 C425.7,867.8 426.1,868.5 426.7,868.6 C427.2,868.6 427.8,868.1 428.3,868.4 C428.9,868.6 429.4,870 430,870.1 C430.6,870.3 431.1,869.3 431.7,869 C432.2,868.8 432.8,869 433.3,868.9 C433.9,868.8 434.4,868.5 435,868.4 C435.6,868.4 436.1,868.3 436.7,868.4 C437.2,868.6 437.8,869.3 438.3,869.4 C438.9,869.6 439.4,869.4 440,869.3 C440.6,869.2 441.4,869 442.2,868.8 C442.9,868.6 443.6,868.2 444.3,868 C445.1,867.9 445.8,866.8 446.5,868 C447.2,872.2 448,892.7 448.7,893 C449.4,893.3 449.8,873.9 450.5,870 C451.2,868.4 452,869.9 452.8,869.6 C453.5,869.3 454.3,868.3 455,868.2 C455.7,868.1 456.1,868.9 456.7,868.9 C457.2,868.9 457.8,868.2 458.3,868.2 C458.9,868.1 459.3,868.6 460,868.6 C460.7,868.7 461.5,868.5 462.2,868.6 C463,868.7 463.8,867.4 464.5,869 C465.2,873.3 465.9,894 466.6,894.2 C467.3,894.4 468.1,874.1 468.8,870 C469.5,868.1 470.2,869.5 470.9,869.3 C471.6,869.2 472.4,869.3 473,869 C473.6,868.8 474.1,867.9 474.7,868 C475.2,868.1 475.8,869.3 476.3,869.5 C476.9,869.6 477.4,869.1 478,868.9 C478.6,868.6 479.1,868.2 479.7,868.1 C480.2,867.9 480.8,867.9 481.3,868 C481.9,868.1 482.4,868.7 483,868.9 C483.6,869 484.1,869.1 484.7,869 C485.2,868.9 485.8,868.2 486.3,868.2 C486.9,868.2 487.5,869.2 488,869.1 C488.5,868.9 489,867.6 489.5,867.5 C490,867.3 490.4,866.3 491,868 C491.6,871.3 492.5,886.7 493.1,887.3 C493.7,887.9 494.1,876.9 494.6,871.6 C495,866.4 495.4,858.8 496,856 C496.6,853.7 497.3,855.2 498,854.9 C498.7,854.5 499.4,854.3 500,854 C500.6,853.7 501.1,853.1 501.7,852.9 C502.2,852.8 502.8,853.3 503.3,853.3 C503.9,853.3 504.4,853.3 505,853.1 C505.6,853 506.1,852.4 506.7,852.4 C507.2,852.4 507.8,853.2 508.3,853.1 C508.9,853 509.4,852.1 510,851.8 C510.6,851.4 511.2,851.2 511.8,850.9 C512.4,850.6 513,849.6 513.6,850 C514.2,850.4 514.9,848.8 515.5,853 C516.1,857.7 516.8,872.4 517.5,878 C518.2,883.6 519,887.1 519.6,886.6 C520.2,886.1 520.6,877 521.2,875 C521.8,873.7 522.5,875 523.1,874.9 C523.7,874.7 524.4,874.2 525,874.1 C525.6,874.1 526.1,874.6 526.7,874.5 C527.2,874.5 527.8,874.1 528.3,873.9 C528.9,873.8 529.4,873.5 530,873.7 C530.6,873.9 531.1,875 531.7,875.1 C532.2,875.2 532.8,874.6 533.3,874.4 C533.9,874.3 534.4,874.3 535,874.3 C535.6,874.3 536.1,874.4 536.7,874.5 C537.2,874.6 537.8,874.9 538.3,874.8 C538.9,874.8 539.3,874.4 540,874.3 C540.7,874.2 541.9,875.1 542.6,874 C543.3,872.9 543.7,869.7 544.2,867.5 C544.7,865.3 545.2,862 545.8,861 C546.4,860 547.2,861.1 547.9,861.2 C548.6,861.3 549.4,861.4 550,861.5 C550.6,861.7 551.1,862.4 551.7,862.1 C552.2,861.9 552.8,860.2 553.3,859.9 C553.9,859.6 554.4,860.2 555,860.6 C555.6,860.9 556.1,861.4 556.7,861.7 C557.2,862.1 557.8,862.6 558.3,862.5 C558.9,862.4 559.4,861.5 560,861.4 C560.6,861.3 561.3,862.1 562,861.7 C562.7,861.4 563.3,860.1 564,859.3 C564.7,858.5 565.5,855.8 566.2,857 C566.9,858.8 567.4,865.5 568,870 C568.6,874.5 569.2,884 569.9,884 C570.6,884 571.3,872.7 572,870 C572.7,867.3 573.3,868.9 574,868 C574.7,867.2 575.3,865.7 576,865 C576.7,864.4 577.3,864.4 578,864.3 C578.7,864.2 579.3,864.6 580,864.4 C580.7,864.2 581.3,863.4 582,863.2 C582.7,863 583.4,863.3 584,863.3 C584.6,863.2 585,863.1 585.5,863 C586,862.8 586.5,861.4 587,862.6 C587.5,882.1 587.8,957.4 588.2,980 C588.6,999.2 588.9,996.3 589.3,998 C589.7,999.2 590.1,999.2 590.5,990 C590.9,967.2 591.3,882.9 591.8,861.5 C592.3,860.3 592.9,861.6 593.4,861.7 C593.9,861.8 594.4,862 595,862.1 C595.6,862.1 596.2,861.9 596.8,861.9 C597.4,861.8 597.9,861.8 598.5,861.8 C599.1,861.8 599.7,860.6 600.3,862 C600.9,865.7 601.3,876.8 601.8,884.1 C602.4,891.5 602.8,905.7 603.4,906.3 C604,906.9 604.9,892.4 605.5,888 C606.1,883.6 606.4,880.8 607.1,880 C607.8,879.2 608.8,881.7 609.5,883 C610.2,884.3 610.8,887.5 611.5,887.7 C612.2,887.9 612.8,885.1 613.5,884 C614.2,882.9 615.2,881.4 615.9,881.2 C616.6,881 617.6,882.7 617.9,883" fill="none" stroke="#1010ff" stroke-width="1.3" stroke-linejoin="round"/>
<text x="405.4" y="899.2" font-size="8.8" font-weight="bold" text-anchor="middle" fill="#111" >Sap</text>
<text x="416.9" y="852" font-size="8.8" font-weight="bold" text-anchor="middle" fill="#111" >PM</text>
<text x="446.1" y="855.8" font-size="8.8" font-weight="bold" text-anchor="middle" fill="#111" >D</text>
<text x="466.5" y="854" font-size="8.8" font-weight="bold" text-anchor="middle" fill="#111" >G</text>
<text x="493.8" y="844.6" font-size="8.8" font-weight="bold" text-anchor="middle" fill="#111" >S</text>
<text x="512.5" y="839.6" font-size="8.8" font-weight="bold" text-anchor="middle" fill="#111" >O</text>
<text x="541.2" y="849.9" font-size="8.8" font-weight="bold" text-anchor="middle" fill="#111" >F</text>
<text x="569" y="847.7" font-size="8.8" font-weight="bold" text-anchor="middle" fill="#111" >R</text>
<text x="600.6" y="853.1" font-size="8.8" font-weight="bold" text-anchor="middle" fill="#111" >AA</text>
<line x1="404" y1="889" x2="402" y2="886.1" stroke="#222" stroke-width="0.7" />
<path d="M400.5,884 L403,885.4 L401,886.8 Z" fill="#222"/>
<line x1="418" y1="855" x2="419.4" y2="858.1" stroke="#222" stroke-width="0.7" />
<path d="M420.5,860.5 L418.3,858.6 L420.5,857.6 Z" fill="#222"/>
<line x1="446.5" y1="858.5" x2="447.6" y2="861.6" stroke="#222" stroke-width="0.7" />
<path d="M448.5,864 L446.5,862 L448.7,861.1 Z" fill="#222"/>
<line x1="467" y1="857" x2="468.4" y2="860.1" stroke="#222" stroke-width="0.7" />
<path d="M469.5,862.5 L467.3,860.6 L469.5,859.6 Z" fill="#222"/>
<line x1="494.5" y1="847.5" x2="496.3" y2="850.7" stroke="#222" stroke-width="0.7" />
<path d="M497.5,853 L495.2,851.3 L497.3,850.1 Z" fill="#222"/>
<line x1="513" y1="843" x2="514.4" y2="846.1" stroke="#222" stroke-width="0.7" />
<path d="M515.5,848.5 L513.3,846.6 L515.5,845.6 Z" fill="#222"/>
<line x1="541.5" y1="853" x2="543.2" y2="855.8" stroke="#222" stroke-width="0.7" />
<path d="M544.5,858 L542.1,856.4 L544.2,855.2 Z" fill="#222"/>
<line x1="569.5" y1="851" x2="570.9" y2="854.1" stroke="#222" stroke-width="0.7" />
<path d="M572,856.5 L569.8,854.6 L572,853.6 Z" fill="#222"/>
<line x1="599.5" y1="856" x2="600.8" y2="858.7" stroke="#222" stroke-width="0.7" />
<path d="M602,861 L599.8,859.2 L601.9,858.1 Z" fill="#222"/>
<line x1="49.7" y1="1084.4" x2="49.7" y2="1236.2" stroke="#8a8a8a" stroke-width="1.3" />
<line x1="47.2" y1="1214.4" x2="49.7" y2="1214.4" stroke="#777" stroke-width="1.1" />
<text x="44.5" y="1218.7" font-size="12" font-weight="bold" text-anchor="end" fill="#000" >0</text>
<line x1="47.2" y1="1171.2" x2="49.7" y2="1171.2" stroke="#777" stroke-width="1.1" />
<text x="44.5" y="1175.5" font-size="12" font-weight="bold" text-anchor="end" fill="#000" >2</text>
<line x1="47.2" y1="1128" x2="49.7" y2="1128" stroke="#777" stroke-width="1.1" />
<text x="44.5" y="1132.3" font-size="12" font-weight="bold" text-anchor="end" fill="#000" >4</text>
<line x1="47.2" y1="1084.8" x2="49.7" y2="1084.8" stroke="#777" stroke-width="1.1" />
<text x="44.5" y="1089.1" font-size="12" font-weight="bold" text-anchor="end" fill="#000" >6</text>
<line x1="47.7" y1="1236" x2="49.7" y2="1236" stroke="#777" stroke-width="1" />
<line x1="47.7" y1="1192.8" x2="49.7" y2="1192.8" stroke="#777" stroke-width="1" />
<line x1="47.7" y1="1149.6" x2="49.7" y2="1149.6" stroke="#777" stroke-width="1" />
<line x1="47.7" y1="1106.4" x2="49.7" y2="1106.4" stroke="#777" stroke-width="1" />
<line x1="49.7" y1="1236.2" x2="243.8" y2="1236.2" stroke="#555" stroke-width="1.3" />
<line x1="82.7" y1="1236.2" x2="82.7" y2="1239" stroke="#555" stroke-width="1.1" />
<line x1="147.5" y1="1236.2" x2="147.5" y2="1239" stroke="#555" stroke-width="1.1" />
<line x1="212.9" y1="1236.2" x2="212.9" y2="1239" stroke="#555" stroke-width="1.1" />
<text x="82.3" y="1251" font-size="13.2" font-weight="bold" text-anchor="middle" fill="#000" >Control</text>
<text x="147.2" y="1251" font-size="13.2" font-weight="bold" text-anchor="middle" fill="#000" >ICU-S</text>
<text x="212" y="1251" font-size="13.2" font-weight="bold" text-anchor="middle" fill="#000" >ICU-NS</text>
<text x="54" y="1089.8" font-size="12.9" font-weight="bold" text-anchor="start" fill="#000" textLength="34" lengthAdjust="spacingAndGlyphs">Basal</text>
<path d="M84.3,1105.3 L84.3,1098.8 L213.2,1098.8 L213.2,1105.3" fill="none" stroke="#111" stroke-width="2.2"/>
<text x="154" y="1092.3" font-size="13.3" font-weight="bold" text-anchor="middle" fill="#000" >p=0.042</text>
<text x="14.1" y="1161.3" font-size="11.83" font-weight="bold" text-anchor="middle" transform="rotate(-90 14.1 1161.3)">Oxygen Consumption Rate per</text>
<text x="29.6" y="1162.4" font-size="11.63" font-weight="bold" text-anchor="middle" transform="rotate(-90 29.6 1162.4)">million cells (pmol/(s*mL))</text>
<path d="M82.7,1181 L82.9,1181 C83.1,1181.5 83.4,1182.8 84,1184 C84.6,1185.2 85.4,1186.5 86.4,1188.5 C87.4,1190.5 88.4,1193.5 90.1,1196.1 C91.8,1198.7 96.2,1201.8 96.4,1204.3 C96.6,1206.8 92.9,1209.2 91.1,1211.3 C89.3,1213.4 86.7,1215.1 85.4,1217 C84.1,1218.9 83.7,1221.8 83.3,1222.7 L82.7,1222.7 Z" fill="#808080" stroke="#444" stroke-width="0.6" stroke-linejoin="round"/>
<line x1="73.4" y1="1198" x2="81.5" y2="1198" stroke="#444" stroke-width="2.4" stroke-linecap="round"/>
<line x1="70.2" y1="1209" x2="81.5" y2="1209" stroke="#444" stroke-width="2.4" stroke-linecap="round"/>
<path d="M78.9,1187.4 L80.7,1185.6 L82.5,1187.4 L80.7,1189.2 Z" fill="#383838"/>
<circle cx="80.7" cy="1187.4" r="1.2" fill="#383838"/>
<line x1="87" y1="1190.4" x2="87" y2="1207.5" stroke="#4a4a4a" stroke-width="1" stroke-opacity="0.85"/>
<circle cx="86.6" cy="1202.3" r="2.2" fill="#404040"/>
<path d="M147.5,1146.2 L147.6,1146.2 C147.7,1147.2 147.9,1149.9 148,1152 C148.1,1154.1 148,1155.6 148.4,1158.8 C148.8,1162 149.7,1166.7 150.7,1171.1 C151.7,1175.5 153.2,1181.1 154.2,1185.1 C155.1,1189 156.7,1191.3 156.4,1194.8 C156.1,1198.3 153.8,1202.8 152.4,1206.1 C151,1209.4 148.8,1211.7 148,1214.9 C147.2,1218.1 147.7,1223.7 147.6,1225.4 L147.5,1225.4 Z" fill="#5b97e8" stroke="#444" stroke-width="0.6" stroke-linejoin="round"/>
<circle cx="145.5" cy="1165.8" r="1.0" fill="#383838"/>
<circle cx="145.5" cy="1176.6" r="1.0" fill="#383838"/>
<circle cx="143.5" cy="1176.6" r="1.0" fill="#383838"/>
<circle cx="145.5" cy="1187.4" r="1.0" fill="#383838"/>
<circle cx="145.5" cy="1209" r="1.0" fill="#383838"/>
<circle cx="145.5" cy="1198.2" r="1.0" fill="#383838"/>
<circle cx="143.6" cy="1198.2" r="1.0" fill="#383838"/>
<circle cx="141.7" cy="1198.2" r="1.0" fill="#383838"/>
<circle cx="139.8" cy="1198.2" r="1.0" fill="#383838"/>
<circle cx="137.9" cy="1198.2" r="1.0" fill="#383838"/>
<circle cx="136" cy="1198.2" r="1.0" fill="#383838"/>
<line x1="151.6" y1="1180.7" x2="151.6" y2="1202.6" stroke="#4a4a4a" stroke-width="1" stroke-opacity="0.85"/>
<circle cx="151.2" cy="1189.5" r="2.2" fill="#404040"/>
<path d="M212.9,1106.3 L213.3,1106.3 C213.6,1107.2 214.7,1109.4 215,1112 C215.3,1114.6 215.5,1118.6 215.4,1122 C215.3,1125.4 214.9,1128.8 214.6,1132.6 C214.3,1136.4 213.7,1141.2 213.6,1145 C213.5,1148.8 213.3,1152.6 213.8,1155.3 C214.3,1158 215.2,1159 216.5,1161 C217.8,1163 219,1164.2 221.6,1167.6 C224.2,1171 229.5,1177.1 232.1,1181.6 C234.7,1186.1 237,1190.4 237,1194.8 C237,1199.2 234.9,1204 232.1,1207.9 C229.2,1211.8 223,1215.5 219.9,1218.4 C216.8,1221.3 214.7,1224.2 213.7,1225.4 L212.9,1225.4 Z" fill="#f07474" stroke="#444" stroke-width="0.6" stroke-linejoin="round"/>
<circle cx="210.9" cy="1111.8" r="1.0" fill="#383838"/>
<circle cx="210.9" cy="1122.6" r="1.0" fill="#383838"/>
<circle cx="210.9" cy="1165.8" r="1.0" fill="#383838"/>
<circle cx="210.9" cy="1176.6" r="1.1" fill="#383838"/>
<circle cx="208.7" cy="1176.6" r="1.1" fill="#383838"/>
<line x1="202.3" y1="1187.4" x2="211.7" y2="1187.4" stroke="#444" stroke-width="2.4" stroke-linecap="round"/>
<line x1="199.2" y1="1198.2" x2="211.7" y2="1198.2" stroke="#444" stroke-width="2.4" stroke-linecap="round"/>
<line x1="203.2" y1="1209" x2="211.7" y2="1209" stroke="#444" stroke-width="2.4" stroke-linecap="round"/>
<line x1="216.4" y1="1167.6" x2="216.4" y2="1211.4" stroke="#4a4a4a" stroke-width="1" stroke-opacity="0.85"/>
<circle cx="216" cy="1188.6" r="2.2" fill="#404040"/>
<line x1="260.7" y1="1086.1" x2="260.7" y2="1235.5" stroke="#8a8a8a" stroke-width="1.3" />
<line x1="258.2" y1="1209.4" x2="260.7" y2="1209.4" stroke="#777" stroke-width="1.1" />
<text x="255.5" y="1213.7" font-size="12" font-weight="bold" text-anchor="end" fill="#000" >0</text>
<line x1="258.2" y1="1174.4" x2="260.7" y2="1174.4" stroke="#777" stroke-width="1.1" />
<text x="255.5" y="1178.7" font-size="12" font-weight="bold" text-anchor="end" fill="#000" >2</text>
<line x1="258.2" y1="1139.4" x2="260.7" y2="1139.4" stroke="#777" stroke-width="1.1" />
<text x="255.5" y="1143.7" font-size="12" font-weight="bold" text-anchor="end" fill="#000" >4</text>
<line x1="258.2" y1="1104.4" x2="260.7" y2="1104.4" stroke="#777" stroke-width="1.1" />
<text x="255.5" y="1108.7" font-size="12" font-weight="bold" text-anchor="end" fill="#000" >6</text>
<line x1="258.7" y1="1226.9" x2="260.7" y2="1226.9" stroke="#777" stroke-width="1" />
<line x1="258.7" y1="1191.9" x2="260.7" y2="1191.9" stroke="#777" stroke-width="1" />
<line x1="258.7" y1="1156.9" x2="260.7" y2="1156.9" stroke="#777" stroke-width="1" />
<line x1="258.7" y1="1121.9" x2="260.7" y2="1121.9" stroke="#777" stroke-width="1" />
<line x1="260.7" y1="1235.5" x2="451.6" y2="1235.5" stroke="#555" stroke-width="1.3" />
<line x1="292.4" y1="1235.5" x2="292.4" y2="1238.3" stroke="#555" stroke-width="1.1" />
<line x1="357" y1="1235.5" x2="357" y2="1238.3" stroke="#555" stroke-width="1.1" />
<line x1="420.6" y1="1235.5" x2="420.6" y2="1238.3" stroke="#555" stroke-width="1.1" />
<text x="292.4" y="1251" font-size="13.2" font-weight="bold" text-anchor="middle" fill="#000" >Control</text>
<text x="356.6" y="1251" font-size="13.2" font-weight="bold" text-anchor="middle" fill="#000" >ICU-S</text>
<text x="420.2" y="1251" font-size="13.2" font-weight="bold" text-anchor="middle" fill="#000" >ICU-NS</text>
<text x="264.6" y="1088.8" font-size="13" font-weight="bold" text-anchor="start" fill="#000" textLength="26.6" lengthAdjust="spacingAndGlyphs">OX2</text>
<path d="M292.4,1101.3 L292.4,1094.8 L420.9,1094.8 L420.9,1101.3" fill="none" stroke="#111" stroke-width="2.2"/>
<text x="361" y="1086.3" font-size="13.3" font-weight="bold" text-anchor="middle" fill="#000" >p=0.049</text>
<path d="M293.7,1189.5 L294,1189.5 C294.3,1190.1 295,1191.6 296,1193 C297,1194.4 298.4,1196.4 300,1198 C301.6,1199.6 305.7,1201.3 305.7,1202.8 C305.7,1204.3 301.6,1205.7 300,1207 C298.4,1208.3 297,1209.5 296,1210.5 C295,1211.5 294.3,1212.8 294,1213.2 L293.7,1213.2 Z" fill="#808080" stroke="#444" stroke-width="0.6" stroke-linejoin="round"/>
<line x1="280" y1="1200.5" x2="292.5" y2="1200.5" stroke="#444" stroke-width="2.4" stroke-linecap="round"/>
<line x1="297.1" y1="1197" x2="297.1" y2="1207" stroke="#4a4a4a" stroke-width="1" stroke-opacity="0.85"/>
<circle cx="296.7" cy="1201.8" r="2.0" fill="#404040"/>
<path d="M357,1146.9 L357.1,1146.9 C357.1,1147.8 357.2,1150.3 357.3,1152 C357.4,1153.7 357.1,1153.9 357.5,1157.1 C357.9,1160.3 358.8,1165.8 359.8,1171.1 C360.8,1176.3 362.7,1183.8 363.7,1188.6 C364.7,1193.4 366,1196.5 365.9,1200 C365.8,1203.5 364.2,1206.5 362.8,1209.6 C361.4,1212.7 358.4,1215.5 357.5,1218.4 C356.6,1221.3 357.2,1225.7 357.1,1227.2 L357,1227.2 Z" fill="#5b97e8" stroke="#444" stroke-width="0.6" stroke-linejoin="round"/>
<circle cx="355" cy="1165.7" r="1.0" fill="#383838"/>
<circle cx="355" cy="1183.2" r="1.0" fill="#383838"/>
<circle cx="353.1" cy="1183.2" r="1.0" fill="#383838"/>
<circle cx="351.2" cy="1183.2" r="1.0" fill="#383838"/>
<circle cx="355" cy="1200.7" r="1.0" fill="#383838"/>
<circle cx="353.1" cy="1200.7" r="1.0" fill="#383838"/>
<circle cx="351.2" cy="1200.7" r="1.0" fill="#383838"/>
<circle cx="349.3" cy="1200.7" r="1.0" fill="#383838"/>
<circle cx="347.4" cy="1200.7" r="1.0" fill="#383838"/>
<circle cx="345.5" cy="1200.7" r="1.0" fill="#383838"/>
<circle cx="343.6" cy="1200.7" r="1.0" fill="#383838"/>
<line x1="360.9" y1="1179.9" x2="360.9" y2="1205.8" stroke="#4a4a4a" stroke-width="1" stroke-opacity="0.85"/>
<circle cx="360.5" cy="1192.5" r="2.2" fill="#404040"/>
<path d="M420.6,1104.5 L421,1104.5 C421.1,1106.2 421.4,1110.3 421.6,1115 C421.8,1119.7 421.7,1125.3 422.3,1132.6 C422.9,1139.9 423.8,1152.1 425,1158.8 C426.2,1165.5 427.1,1168.5 429.3,1172.9 C431.5,1177.3 435.5,1180.6 438.1,1185.1 C440.7,1189.6 444.8,1195.3 444.8,1200 C444.8,1204.7 441.3,1209.4 438.1,1213.1 C434.9,1216.8 428.7,1219.6 425.8,1221.9 C422.9,1224.2 421.8,1226 421,1226.8 L420.6,1226.8 Z" fill="#f07474" stroke="#444" stroke-width="0.6" stroke-linejoin="round"/>
<circle cx="418.6" cy="1113.2" r="1.0" fill="#383838"/>
<circle cx="418.6" cy="1130.7" r="1.0" fill="#383838"/>
<circle cx="418.6" cy="1148.2" r="1.0" fill="#383838"/>
<circle cx="418.6" cy="1165.7" r="1.0" fill="#383838"/>
<circle cx="418.6" cy="1183.2" r="1.1" fill="#383838"/>
<circle cx="416.6" cy="1183.2" r="1.1" fill="#383838"/>
<line x1="407.4" y1="1200.7" x2="419.4" y2="1200.7" stroke="#444" stroke-width="2.4" stroke-linecap="round"/>
<line x1="424.5" y1="1162.3" x2="424.5" y2="1211.4" stroke="#4a4a4a" stroke-width="1" stroke-opacity="0.85"/>
<circle cx="424.1" cy="1186.5" r="2.2" fill="#404040"/>
<line x1="480.4" y1="1084.7" x2="480.4" y2="1235.2" stroke="#8a8a8a" stroke-width="1.3" />
<line x1="477.9" y1="1208.1" x2="480.4" y2="1208.1" stroke="#777" stroke-width="1.1" />
<text x="475.5" y="1212.4" font-size="12" font-weight="bold" text-anchor="end" fill="#000" >0</text>
<line x1="477.9" y1="1172.8" x2="480.4" y2="1172.8" stroke="#777" stroke-width="1.1" />
<text x="475.5" y="1177.1" font-size="12" font-weight="bold" text-anchor="end" fill="#000" >2</text>
<line x1="477.9" y1="1137.5" x2="480.4" y2="1137.5" stroke="#777" stroke-width="1.1" />
<text x="475.5" y="1141.8" font-size="12" font-weight="bold" text-anchor="end" fill="#000" >4</text>
<line x1="477.9" y1="1102.2" x2="480.4" y2="1102.2" stroke="#777" stroke-width="1.1" />
<text x="475.5" y="1106.5" font-size="12" font-weight="bold" text-anchor="end" fill="#000" >6</text>
<line x1="478.4" y1="1225.8" x2="480.4" y2="1225.8" stroke="#777" stroke-width="1" />
<line x1="478.4" y1="1190.4" x2="480.4" y2="1190.4" stroke="#777" stroke-width="1" />
<line x1="478.4" y1="1155.1" x2="480.4" y2="1155.1" stroke="#777" stroke-width="1" />
<line x1="478.4" y1="1119.8" x2="480.4" y2="1119.8" stroke="#777" stroke-width="1" />
<line x1="480.4" y1="1235.2" x2="673.6" y2="1235.2" stroke="#555" stroke-width="1.3" />
<line x1="513" y1="1235.2" x2="513" y2="1238" stroke="#555" stroke-width="1.1" />
<line x1="577.6" y1="1235.2" x2="577.6" y2="1238" stroke="#555" stroke-width="1.1" />
<line x1="641.6" y1="1235.2" x2="641.6" y2="1238" stroke="#555" stroke-width="1.1" />
<text x="512.6" y="1251" font-size="13.2" font-weight="bold" text-anchor="middle" fill="#000" >Control</text>
<text x="577.6" y="1251" font-size="13.2" font-weight="bold" text-anchor="middle" fill="#000" >ICU-S</text>
<text x="641.6" y="1251" font-size="13.2" font-weight="bold" text-anchor="middle" fill="#000" >ICU-NS</text>
<text x="486.8" y="1097.1" font-size="12.9" font-weight="bold" text-anchor="start" fill="#000" textLength="25.3" lengthAdjust="spacingAndGlyphs">OX1</text>
<path d="M513,1181 L513.2,1181 C513.4,1181.9 513.3,1184.4 514.5,1186.6 C515.7,1188.8 518.3,1191.8 520.2,1194.2 C522.1,1196.7 525.9,1199.1 525.9,1201.3 C525.9,1203.5 522.1,1205.7 520.2,1207.5 C518.3,1209.3 515.7,1211.1 514.5,1212.3 C513.3,1213.5 513.4,1214.3 513.2,1214.7 L513,1214.7 Z" fill="#808080" stroke="#444" stroke-width="0.6" stroke-linejoin="round"/>
<line x1="500" y1="1199.4" x2="511.8" y2="1199.4" stroke="#444" stroke-width="2.4" stroke-linecap="round"/>
<line x1="517.2" y1="1195" x2="517.2" y2="1205" stroke="#4a4a4a" stroke-width="1" stroke-opacity="0.85"/>
<circle cx="516.8" cy="1199" r="2.0" fill="#404040"/>
<path d="M577.6,1126.8 L577.7,1126.8 C577.8,1129 578.2,1135.3 578.2,1140 C578.2,1144.7 578,1150.8 578,1155 C578,1159.2 577.7,1162.4 577.9,1165 C578.1,1167.6 578.4,1167.9 579,1170.6 C579.6,1173.3 580.7,1178.2 581.6,1181.1 C582.5,1184 583.6,1186 584.3,1188.1 C584.9,1190.1 585.6,1191.1 585.5,1193.4 C585.4,1195.7 584.5,1199.2 583.4,1202.1 C582.3,1205 579.9,1206.9 579,1210.9 C578.1,1214.9 578,1223.7 577.8,1226.3 L577.6,1226.3 Z" fill="#5b97e8" stroke="#444" stroke-width="0.6" stroke-linejoin="round"/>
<circle cx="575.6" cy="1146.3" r="1.0" fill="#383838"/>
<circle cx="575.6" cy="1181.6" r="1.0" fill="#383838"/>
<circle cx="573.6" cy="1181.6" r="1.0" fill="#383838"/>
<circle cx="575.6" cy="1199.3" r="1.0" fill="#383838"/>
<circle cx="573.8" cy="1199.3" r="1.0" fill="#383838"/>
<circle cx="571.9" cy="1199.3" r="1.0" fill="#383838"/>
<circle cx="570.1" cy="1199.3" r="1.0" fill="#383838"/>
<circle cx="568.2" cy="1199.3" r="1.0" fill="#383838"/>
<circle cx="566.4" cy="1199.3" r="1.0" fill="#383838"/>
<circle cx="564.5" cy="1199.3" r="1.0" fill="#383838"/>
<line x1="581.5" y1="1173.2" x2="581.5" y2="1203.5" stroke="#4a4a4a" stroke-width="1" stroke-opacity="0.85"/>
<circle cx="581.1" cy="1188.1" r="2.2" fill="#404040"/>
<path d="M641.6,1102.3 L642,1102.3 C642.2,1103.6 642.5,1104.8 643,1110 C643.5,1115.2 644.2,1127.1 644.7,1133.8 C645.2,1140.5 645.6,1145.6 645.9,1150 C646.2,1154.4 646.3,1157 646.5,1160.1 C646.7,1163.2 645.4,1165.3 647.3,1168.8 C649.2,1172.3 654.7,1176.6 657.9,1181.1 C661.1,1185.6 666,1191.3 666.3,1196 C666.6,1200.7 662.8,1205.2 659.6,1209.1 C656.4,1213 650.2,1216.7 647.3,1219.6 C644.4,1222.5 642.9,1225.2 642,1226.3 L641.6,1226.3 Z" fill="#f07474" stroke="#444" stroke-width="0.6" stroke-linejoin="round"/>
<circle cx="639.6" cy="1111" r="1.0" fill="#383838"/>
<circle cx="639.6" cy="1146.3" r="1.1" fill="#383838"/>
<circle cx="637.8" cy="1146.3" r="1.1" fill="#383838"/>
<line x1="636.8" y1="1181.6" x2="640.4" y2="1181.6" stroke="#444" stroke-width="2.4" stroke-linecap="round"/>
<line x1="628.4" y1="1199.3" x2="640.4" y2="1199.3" stroke="#444" stroke-width="2.4" stroke-linecap="round"/>
<line x1="646" y1="1169.7" x2="646" y2="1210" stroke="#4a4a4a" stroke-width="1" stroke-opacity="0.85"/>
<circle cx="645.6" cy="1186.7" r="2.2" fill="#404040"/>
</svg></body></html>
